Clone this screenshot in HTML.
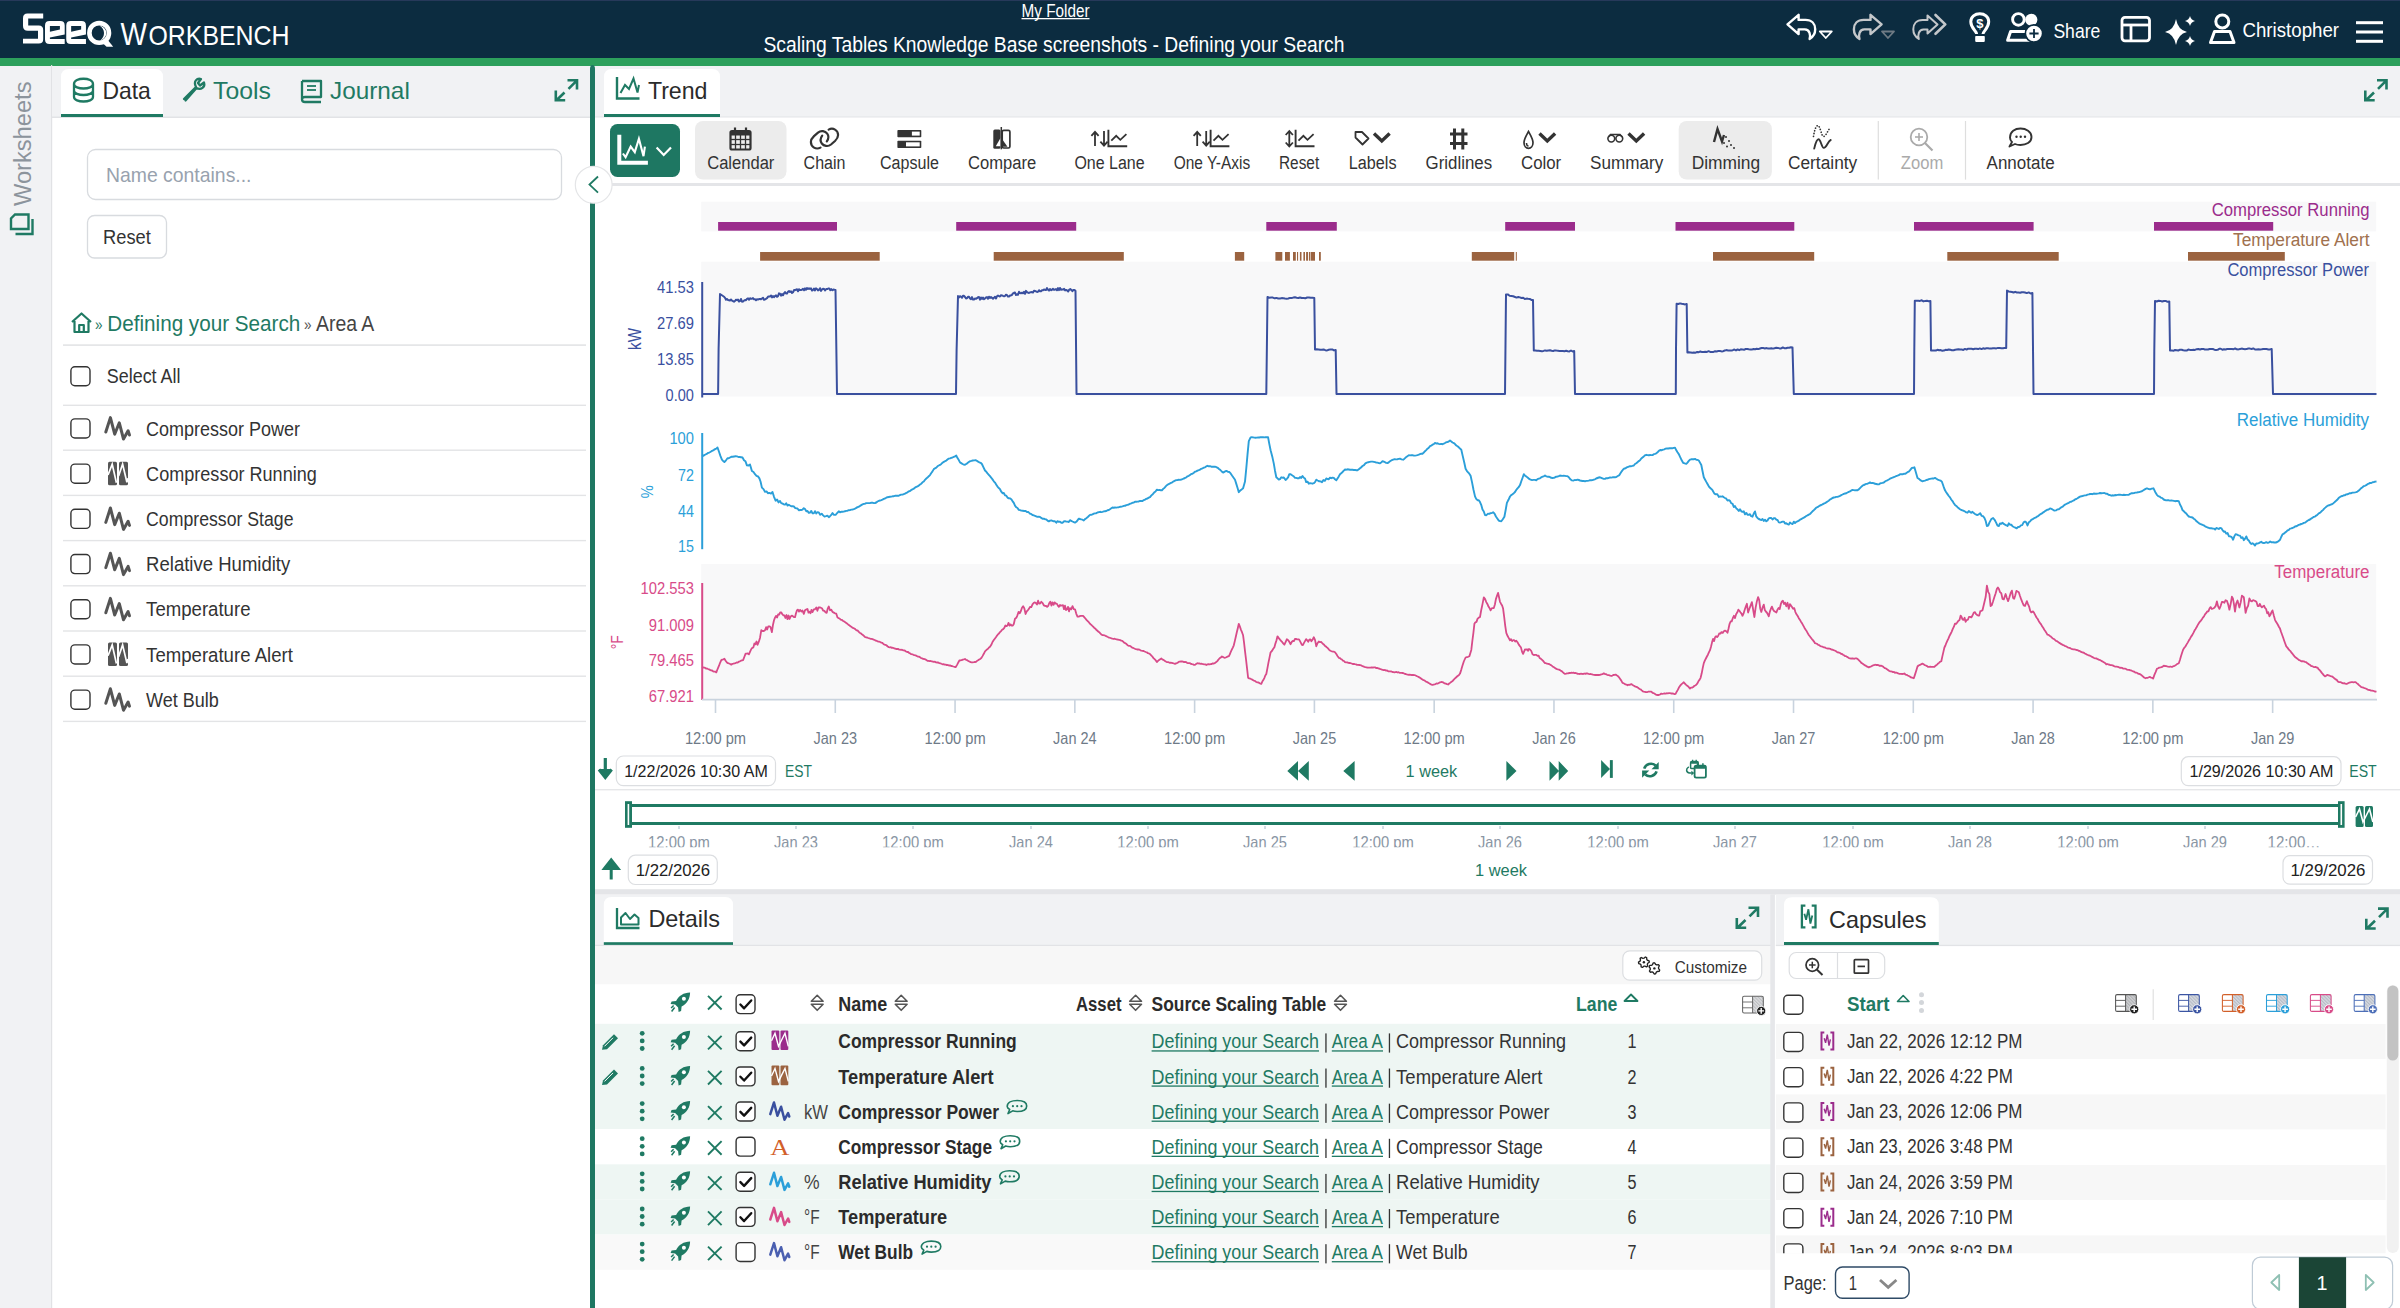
<!DOCTYPE html>
<html><head><meta charset="utf-8"><title>Seeq Workbench</title>
<style>
html,body{margin:0;padding:0;background:#fff;overflow:hidden;width:2400px;height:1308px}
svg{display:block;font-family:"Liberation Sans",sans-serif}
</style></head><body>
<svg width="2400" height="1308" viewBox="0 0 2400 1308">
<rect x="0" y="0" width="2400" height="58" rx="0" fill="#0c2c40" />
<rect x="0" y="0" width="2400" height="1" rx="0" fill="#27395a" />
<rect x="0" y="58" width="2400" height="8" rx="0" fill="#2da05c" />
<path d="M43.2,13.6 H27.5 Q23,13.6 23,18.2 V26 Q23,30.7 27.8,30.7 H38 V38.8 H23 V43.6 H38.8 Q43.2,43.6 43.2,39.2 V30 Q43.2,25.5 38.8,25.5 H28.2 V18.6 H43.2 Z" fill="#ffffff" />
<path d="M49.5,21.1 H60.3 Q64.7,21.1 64.7,25.5 V34.6 L49.9,37.6 V39 H64.7 V44 H49.5 Q45,44 45,39.5 V25.5 Q45,21.1 49.5,21.1 Z M49.9,26.1 V31.8 L59.9,29.6 V26.1 Z" fill="#ffffff" fill-rule="evenodd"/>
<path d="M70.75,21.1 H81.55 Q85.95,21.1 85.95,25.5 V34.6 L71.15,37.6 V39 H85.95 V44 H70.75 Q66.25,44 66.25,39.5 V25.5 Q66.25,21.1 70.75,21.1 Z M71.15,26.1 V31.8 L81.15,29.6 V26.1 Z" fill="#ffffff" fill-rule="evenodd"/>
<circle cx="99.2" cy="32.9" r="9.8" fill="none" stroke="#fff" stroke-width="4.6"/>
<path d="M102.8,43.2 L107.6,39.8 L113.2,46.8 H106.6 Z" fill="#ffffff" />
<path d="M99.5,25.4 C104,26.5 106.3,29.5 106.3,33 C106.3,36.5 104,39.2 100.3,40.4 C102.8,38.5 104,36 104,33 C104,30 102.3,27 99.5,25.4 Z" fill="#ffffff" />
<text x="120.5" y="44.7" font-size="31" fill="#ffffff" font-weight="400" textLength="26.5" lengthAdjust="spacingAndGlyphs" >W</text>
<text x="148.5" y="44.7" font-size="28.5" fill="#ffffff" font-weight="400" textLength="141.0" lengthAdjust="spacingAndGlyphs" >ORKBENCH</text>
<text x="1021.5" y="16.7" font-size="18" fill="#ffffff" font-weight="400" textLength="68.0" lengthAdjust="spacingAndGlyphs" >My Folder</text>
<rect x="1021.5" y="18" width="68" height="1.3" rx="0" fill="#ffffff" />
<text x="763.5" y="51.7" font-size="22" fill="#ffffff" font-weight="400" textLength="581.0" lengthAdjust="spacingAndGlyphs" >Scaling Tables Knowledge Base screenshots - Defining your Search</text>
<path d="M1787.5,24.4 L1798.6,14.8 V19.9 H1805.5 C1811.8,19.9 1815.2,24 1815.2,29.3 C1815.2,34 1812.5,37.3 1809.6,39 C1810.8,35.3 1809.8,29.4 1804.8,29.4 H1798.6 V34.1 Z" fill="none" stroke="#ffffff" stroke-width="2.4" stroke-linejoin="round"/>
<path d="M1819.8,31.5 H1831.8 L1825.8,38 Z" fill="none" stroke="#ffffff" stroke-width="1.8" stroke-linejoin="round"/>
<path d="M1787.5,24.4 L1798.6,14.8 V19.9 H1805.5 C1811.8,19.9 1815.2,24 1815.2,29.3 C1815.2,34 1812.5,37.3 1809.6,39 C1810.8,35.3 1809.8,29.4 1804.8,29.4 H1798.6 V34.1 Z" fill="none" stroke="#c4c7ca" stroke-width="2.4" stroke-linejoin="round" transform="translate(3669.1,0) scale(-1,1)"/>
<path d="M1882,31.5 H1894 L1888,38 Z" fill="none" stroke="#6f7b84" stroke-width="1.8" stroke-linejoin="round"/>
<path d="M1937.5,24.4 L1927.5,15.5 V20 H1922.5 C1916.5,20 1913.3,24 1913.3,29.3 C1913.3,34 1916,37.3 1918.8,39 C1917.6,35.3 1918.6,29.4 1923.5,29.4 H1927.5 V33.5 Z" fill="none" stroke="#c4c7ca" stroke-width="2.0" stroke-linejoin="round"/>
<path d="M1935.5,15 L1945.3,24.4 L1935.5,33.8" fill="none" stroke="#c4c7ca" stroke-width="2.6" stroke-linejoin="round" stroke-linecap="round"/>
<path d="M1976.6,34 C1976.6,31 1970.8,28.5 1970.8,21.8 C1970.8,16.7 1975,13.8 1979.8,13.8 C1984.6,13.8 1988.7,16.7 1988.7,21.8 C1988.7,28.5 1983,31 1983,34" fill="none" stroke="#ffffff" stroke-width="3.0" stroke-linecap="butt"/>
<rect x="1975.2" y="36" width="9.6" height="5.9" rx="0.8" fill="#ffffff" />
<text x="1976.3" y="27.9" font-size="12.5" fill="#ffffff" font-weight="700" textLength="7.2" lengthAdjust="spacingAndGlyphs" >$</text>
<circle cx="2018.4" cy="19.4" r="5.8" fill="none" stroke="#fff" stroke-width="2.9"/>
<circle cx="2031.3" cy="19.8" r="6.1" fill="#fff"/>
<path d="M2007.6,40.2 L2010.6,31.4 H2028 L2030,40.2 Z" fill="none" stroke="#ffffff" stroke-width="3.0" stroke-linejoin="round"/>
<circle cx="2034" cy="33.5" r="8.6" fill="#fff" stroke="#0c2c40" stroke-width="1.6"/>
<path d="M2034,28.9 V38.1 M2029.4,33.5 H2038.6" fill="none" stroke="#0c2c40" stroke-width="1.8" />
<text x="2053.4" y="38.3" font-size="20.5" fill="#ffffff" font-weight="400" textLength="46.9" lengthAdjust="spacingAndGlyphs" >Share</text>
<rect x="2122" y="17.3" width="27.5" height="23.5" rx="3" fill="none" stroke="#ffffff" stroke-width="2.8" />
<line x1="2122" y1="25" x2="2149.5" y2="25" stroke="#ffffff" stroke-width="2.8" />
<line x1="2131" y1="25" x2="2131" y2="40.8" stroke="#ffffff" stroke-width="2.8" />
<path d="M2176,19 Q2178,30 2187,32 Q2178,34 2176,45 Q2174,34 2165,32 Q2174,30 2176,19 Z" fill="#ffffff" />
<path d="M2190,16 Q2191,20 2195,21 Q2191,22 2190,26 Q2189,22 2185,21 Q2189,20 2190,16 Z" fill="#ffffff" />
<path d="M2190,36 Q2191,40 2195,41 Q2191,42 2190,46 Q2189,42 2185,41 Q2189,40 2190,36 Z" fill="#ffffff" />
<circle cx="2222.3" cy="21.5" r="6.5" fill="none" stroke="#fff" stroke-width="3"/>
<path d="M2210.5,42.5 L2214.5,31.5 H2230 L2234,42.5 Z" fill="none" stroke="#ffffff" stroke-width="3" stroke-linejoin="round"/>
<text x="2242.5" y="36.5" font-size="21" fill="#ffffff" font-weight="400" textLength="96.5" lengthAdjust="spacingAndGlyphs" >Christopher</text>
<rect x="2356" y="21.2" width="27" height="3" rx="0" fill="#ffffff" />
<rect x="2356" y="30.5" width="27" height="3" rx="0" fill="#ffffff" />
<rect x="2356" y="39.8" width="27" height="3" rx="0" fill="#ffffff" />
<rect x="0" y="66" width="52" height="1242" rx="0" fill="#f1f2f4" />
<rect x="51" y="65" width="1.2" height="1243" rx="0" fill="#e1e2e5" />
<text transform="translate(31.2,206) rotate(-90)" x="0" y="0" font-size="23.5" fill="#8c949c" textLength="124.5" lengthAdjust="spacingAndGlyphs">Worksheets</text>
<path d="M15,214.5 H28.5 V229 H11 V218.5 Z" fill="none" stroke="#1f7a63" stroke-width="2.4" stroke-linejoin="miter"/>
<path d="M32.5,219 V234 H15.5" fill="none" stroke="#1f7a63" stroke-width="2.4" />
<rect x="52" y="66" width="538" height="51" rx="0" fill="#f1f2f4" />
<rect x="52" y="116.5" width="538" height="1.5" rx="0" fill="#e2e3e6" />
<path d="M61,117 V77 Q61,69 69,69 H155 Q163,69 163,77 V117 Z" fill="#fff" />
<rect x="61" y="114" width="102" height="3" rx="0" fill="#1f7a63" />
<path d="M74,84 C74,77 93,77 93,84 C93,90 74,90 74,84 Z M74,84 V97 C74,103 93,103 93,97 V84 M74,90.5 C74,96.5 93,96.5 93,90.5" fill="none" stroke="#1f7a63" stroke-width="2.3" />
<text x="102.4" y="99.4" font-size="24" fill="#2b2b2b" font-weight="400" textLength="48.4" lengthAdjust="spacingAndGlyphs" >Data</text>
<path d="M184,99 L196,87 M196,87 C193,81 197,78 201,79 L198,83 L200,85.5 L204,82.5 C205.5,87 201,90.5 196.5,88 L185.5,100.5 Z" fill="none" stroke="#1f7a63" stroke-width="2.3" stroke-linejoin="round" stroke-linecap="round"/>
<text x="213.0" y="99.4" font-size="24" fill="#1f7a63" font-weight="400" textLength="57.8" lengthAdjust="spacingAndGlyphs" >Tools</text>
<path d="M302,81 H321 V97 H305 Q302,97 302,99.5 Q302,102 305,102 H321 M302,99.5 V81" fill="none" stroke="#1f7a63" stroke-width="2.3" stroke-linejoin="round"/>
<line x1="307" y1="86" x2="316" y2="86" stroke="#1f7a63" stroke-width="1.8" />
<line x1="307" y1="90" x2="316" y2="90" stroke="#1f7a63" stroke-width="1.8" />
<text x="330.0" y="99.4" font-size="24" fill="#1f7a63" font-weight="400" textLength="79.8" lengthAdjust="spacingAndGlyphs" >Journal</text>
<path d="M567.5,80.3 H577 V89.5 M576.5,80.8 L568.5,88.8 M564.5,92.5 L556.5,100.2 M555.8,90.5 V100.2 H565.2" fill="none" stroke="#1f7a63" stroke-width="2.6" />
<rect x="87.5" y="149.5" width="474" height="50" rx="8" fill="#fff" stroke="#d8dbdf" stroke-width="1.3" />
<text x="106.0" y="182.0" font-size="21" fill="#98a2ae" font-weight="400" textLength="145.5" lengthAdjust="spacingAndGlyphs" >Name contains...</text>
<rect x="87.5" y="215.5" width="79" height="42.5" rx="7" fill="#fff" stroke="#d8dbdf" stroke-width="1.3" />
<text x="103.0" y="243.9" font-size="20.5" fill="#333" font-weight="400" textLength="47.8" lengthAdjust="spacingAndGlyphs" >Reset</text>
<path d="M72,322 L81.5,313.5 L91,322 M74.5,319.5 V332 H88.5 V319.5 M79.2,332 V325 H83.8 V332" fill="none" stroke="#1f7a63" stroke-width="2.2" stroke-linejoin="round"/>
<text x="95.0" y="330.0" font-size="17" fill="#1f7a63" font-weight="400" textLength="7.5" lengthAdjust="spacingAndGlyphs" >»</text>
<text x="107.3" y="330.6" font-size="22.5" fill="#1f7a63" font-weight="400" textLength="193.0" lengthAdjust="spacingAndGlyphs" >Defining your Search</text>
<text x="304.0" y="330.0" font-size="17" fill="#555" font-weight="400" textLength="7.5" lengthAdjust="spacingAndGlyphs" >»</text>
<text x="316.0" y="330.6" font-size="22.5" fill="#444" font-weight="400" textLength="58.3" lengthAdjust="spacingAndGlyphs" >Area A</text>
<rect x="63" y="344.3" width="523" height="1.6" rx="0" fill="#e3e4e6" />
<rect x="70.9" y="366.7" width="19.1" height="19.1" rx="4" fill="#fff" stroke="#333" stroke-width="1.4" />
<text x="106.8" y="382.6" font-size="20" fill="#333" font-weight="400" textLength="73.7" lengthAdjust="spacingAndGlyphs" >Select All</text>
<rect x="63" y="404.6" width="523" height="1.4" rx="0" fill="#e3e4e6" />
<rect x="70.9" y="418.9" width="19.1" height="19.1" rx="4" fill="#fff" stroke="#333" stroke-width="1.4" />
<path d="M105.8,432.0 L110.4,417.6 L114.7,434.2 L119.3,422.8 L123.5,439.0 L128.1,430.8 L129.5,435.0" fill="none" stroke="#555" stroke-width="3.0" stroke-linejoin="round" stroke-linecap="round"/>
<text x="146.1" y="435.6" font-size="20.5" fill="#333" font-weight="400" textLength="153.9" lengthAdjust="spacingAndGlyphs" >Compressor Power</text>
<rect x="63" y="449.5" width="523" height="1.4" rx="0" fill="#e3e4e6" />
<rect x="70.9" y="464.09999999999997" width="19.1" height="19.1" rx="4" fill="#fff" stroke="#333" stroke-width="1.4" />
<rect x="108" y="461.7" width="9" height="23.6" rx="1.5" fill="#555" />
<rect x="119" y="461.7" width="9" height="23.6" rx="1.5" fill="#555" />
<path d="M108,475.0 L112.2,464.09999999999997 L116.4,482.7 M118.6,475.9 L122.6,464.09999999999997 L126.9,482.3 L128,478.2" fill="none" stroke="#fff" stroke-width="1.7" />
<text x="146.1" y="480.8" font-size="20.5" fill="#333" font-weight="400" textLength="170.7" lengthAdjust="spacingAndGlyphs" >Compressor Running</text>
<rect x="63" y="494.7" width="523" height="1.4" rx="0" fill="#e3e4e6" />
<rect x="70.9" y="509.3" width="19.1" height="19.1" rx="4" fill="#fff" stroke="#333" stroke-width="1.4" />
<path d="M105.8,522.4 L110.4,508.0 L114.7,524.6 L119.3,513.2 L123.5,529.4 L128.1,521.2 L129.5,525.4" fill="none" stroke="#555" stroke-width="3.0" stroke-linejoin="round" stroke-linecap="round"/>
<text x="146.1" y="526.0" font-size="20.5" fill="#333" font-weight="400" textLength="147.4" lengthAdjust="spacingAndGlyphs" >Compressor Stage</text>
<rect x="63" y="539.9" width="523" height="1.4" rx="0" fill="#e3e4e6" />
<rect x="70.9" y="554.5" width="19.1" height="19.1" rx="4" fill="#fff" stroke="#333" stroke-width="1.4" />
<path d="M105.8,567.6 L110.4,553.2 L114.7,569.8 L119.3,558.4 L123.5,574.6 L128.1,566.4 L129.5,570.6" fill="none" stroke="#555" stroke-width="3.0" stroke-linejoin="round" stroke-linecap="round"/>
<text x="146.1" y="571.2" font-size="20.5" fill="#333" font-weight="400" textLength="144.2" lengthAdjust="spacingAndGlyphs" >Relative Humidity</text>
<rect x="63" y="585.1" width="523" height="1.4" rx="0" fill="#e3e4e6" />
<rect x="70.9" y="599.7" width="19.1" height="19.1" rx="4" fill="#fff" stroke="#333" stroke-width="1.4" />
<path d="M105.8,612.8 L110.4,598.4 L114.7,615.0 L119.3,603.6 L123.5,619.8 L128.1,611.6 L129.5,615.8" fill="none" stroke="#555" stroke-width="3.0" stroke-linejoin="round" stroke-linecap="round"/>
<text x="146.1" y="616.4" font-size="20.5" fill="#333" font-weight="400" textLength="104.4" lengthAdjust="spacingAndGlyphs" >Temperature</text>
<rect x="63" y="630.3" width="523" height="1.4" rx="0" fill="#e3e4e6" />
<rect x="70.9" y="644.9000000000001" width="19.1" height="19.1" rx="4" fill="#fff" stroke="#333" stroke-width="1.4" />
<rect x="108" y="642.5" width="9" height="23.6" rx="1.5" fill="#555" />
<rect x="119" y="642.5" width="9" height="23.6" rx="1.5" fill="#555" />
<path d="M108,655.8 L112.2,644.9 L116.4,663.5 M118.6,656.7 L122.6,644.9 L126.9,663.1 L128,659.0" fill="none" stroke="#fff" stroke-width="1.7" />
<text x="146.1" y="661.6" font-size="20.5" fill="#333" font-weight="400" textLength="146.8" lengthAdjust="spacingAndGlyphs" >Temperature Alert</text>
<rect x="63" y="675.5" width="523" height="1.4" rx="0" fill="#e3e4e6" />
<rect x="70.9" y="690.1000000000001" width="19.1" height="19.1" rx="4" fill="#fff" stroke="#333" stroke-width="1.4" />
<path d="M105.8,703.2 L110.4,688.8 L114.7,705.4 L119.3,694.0 L123.5,710.2 L128.1,702.0 L129.5,706.2" fill="none" stroke="#555" stroke-width="3.0" stroke-linejoin="round" stroke-linecap="round"/>
<text x="146.1" y="706.8" font-size="20.5" fill="#333" font-weight="400" textLength="72.8" lengthAdjust="spacingAndGlyphs" >Wet Bulb</text>
<rect x="63" y="720.7" width="523" height="1.4" rx="0" fill="#e3e4e6" />
<path d="M590,69 Q590,65 592.5,65 Q595,65 595,69 V1308 H590 Z" fill="#1e7762" />
<rect x="595" y="66" width="1805" height="51" rx="0" fill="#f1f2f4" />
<rect x="595" y="116.5" width="1805" height="1.5" rx="0" fill="#e2e3e6" />
<path d="M604,117 V77 Q604,69 612,69 H712 Q720,69 720,77 V117 Z" fill="#fff" />
<rect x="604" y="114" width="116" height="3" rx="0" fill="#1f7a63" />
<path d="M617,77 V98.5 H639.5" fill="none" stroke="#1f7a63" stroke-width="2.4" />
<path d="M620.5,93 L625,85 L629,89 L633.5,78.5 L637.5,92.5 L639,85" fill="none" stroke="#1f7a63" stroke-width="2.0" stroke-linejoin="miter"/>
<text x="647.9" y="99.0" font-size="24" fill="#2b2b2b" font-weight="400" textLength="59.6" lengthAdjust="spacingAndGlyphs" >Trend</text>
<path d="M2377.0,80.3 H2386.5 V89.5 M2386.0,80.8 L2378.0,88.8 M2374.0,92.5 L2366.0,100.2 M2365.3,90.5 V100.2 H2374.7" fill="none" stroke="#1f7a63" stroke-width="2.6" />
<rect x="595" y="117.5" width="1805" height="66" rx="0" fill="#fff" />
<rect x="595" y="183" width="1805" height="3" rx="0" fill="#e4e5e8" />
<rect x="610" y="124" width="70" height="52.9" rx="7.5" fill="#1e7762" />
<path d="M619.3,134.7 V162.8 H647.9" fill="none" stroke="#fff" stroke-width="4.0" />
<path d="M622.9,153.5 L625.6,157.2 L630.7,146.6 L634.8,152.1 L638.9,138.8 L643.5,156.2 L644.9,146.6" fill="none" stroke="#fff" stroke-width="2.1" stroke-linejoin="miter"/>
<path d="M656.6,147.5 L663.7,154.9 L671,147.5" fill="none" stroke="#fff" stroke-width="2.2" />
<rect x="695" y="121" width="91.5" height="58.6" rx="8" fill="#ececec" />
<rect x="1678.7" y="121" width="93.2" height="58.6" rx="8" fill="#ececec" />
<text x="707.2" y="168.5" font-size="18" fill="#333" font-weight="400" textLength="67.2" lengthAdjust="spacingAndGlyphs" >Calendar</text>
<text x="803.6" y="168.5" font-size="18" fill="#333" font-weight="400" textLength="41.9" lengthAdjust="spacingAndGlyphs" >Chain</text>
<text x="880.0" y="168.5" font-size="18" fill="#333" font-weight="400" textLength="58.9" lengthAdjust="spacingAndGlyphs" >Capsule</text>
<text x="968.0" y="168.5" font-size="18" fill="#333" font-weight="400" textLength="68.2" lengthAdjust="spacingAndGlyphs" >Compare</text>
<text x="1074.4" y="168.5" font-size="18" fill="#333" font-weight="400" textLength="70.2" lengthAdjust="spacingAndGlyphs" >One Lane</text>
<text x="1173.7" y="168.5" font-size="18" fill="#333" font-weight="400" textLength="76.5" lengthAdjust="spacingAndGlyphs" >One Y-Axis</text>
<text x="1279.0" y="168.5" font-size="18" fill="#333" font-weight="400" textLength="40.2" lengthAdjust="spacingAndGlyphs" >Reset</text>
<text x="1348.8" y="168.5" font-size="18" fill="#333" font-weight="400" textLength="47.7" lengthAdjust="spacingAndGlyphs" >Labels</text>
<text x="1425.6" y="168.5" font-size="18" fill="#333" font-weight="400" textLength="66.5" lengthAdjust="spacingAndGlyphs" >Gridlines</text>
<text x="1521.0" y="168.5" font-size="18" fill="#333" font-weight="400" textLength="40.2" lengthAdjust="spacingAndGlyphs" >Color</text>
<text x="1590.0" y="168.5" font-size="18" fill="#333" font-weight="400" textLength="73.2" lengthAdjust="spacingAndGlyphs" >Summary</text>
<text x="1691.7" y="168.5" font-size="18" fill="#333" font-weight="400" textLength="68.5" lengthAdjust="spacingAndGlyphs" >Dimming</text>
<text x="1788.0" y="168.5" font-size="18" fill="#333" font-weight="400" textLength="69.2" lengthAdjust="spacingAndGlyphs" >Certainty</text>
<text x="1900.8" y="168.5" font-size="18" fill="#aaaaaa" font-weight="400" textLength="42.4" lengthAdjust="spacingAndGlyphs" >Zoom</text>
<text x="1986.6" y="168.5" font-size="18" fill="#333" font-weight="400" textLength="68.0" lengthAdjust="spacingAndGlyphs" >Annotate</text>
<line x1="1878.3" y1="121" x2="1878.3" y2="179.6" stroke="#dedede" stroke-width="1.2" />
<line x1="1965.5" y1="121" x2="1965.5" y2="179.6" stroke="#dedede" stroke-width="1.2" />
<rect x="730.5" y="131" width="20" height="18.5" rx="1.5" fill="none" stroke="#333" stroke-width="2.2" />
<rect x="730.5" y="131" width="20" height="4.5" rx="0" fill="#333" />
<line x1="735.5" y1="135" x2="735.5" y2="149.5" stroke="#333" stroke-width="1.3" />
<line x1="740.5" y1="135" x2="740.5" y2="149.5" stroke="#333" stroke-width="1.3" />
<line x1="745.5" y1="135" x2="745.5" y2="149.5" stroke="#333" stroke-width="1.3" />
<line x1="730.5" y1="139.5" x2="750.5" y2="139.5" stroke="#333" stroke-width="1.3" />
<line x1="730.5" y1="144.5" x2="750.5" y2="144.5" stroke="#333" stroke-width="1.3" />
<line x1="735" y1="127.5" x2="735" y2="132" stroke="#333" stroke-width="2.2" />
<line x1="746" y1="127.5" x2="746" y2="132" stroke="#333" stroke-width="2.2" />
<path d="M820.5,147.6 C816,150 810.9,147 810.9,142 C810.9,139.2 812.4,137.6 814,136.1 L818,132.6 C821,130.1 825.2,131 827.2,133.6 C829.1,136.1 828.5,139 826.8,141.4" fill="none" stroke="#333" stroke-width="2.2" stroke-linecap="round"/>
<path d="M828.6,129.6 C833.1,127.2 838.1,130.2 838.1,135.1 C838.1,137.9 836.6,139.5 835,141 L831,144.5 C828,147 823.8,146.1 821.8,143.5 C819.9,141 820.5,138.1 822.2,135.7" fill="none" stroke="#333" stroke-width="2.2" stroke-linecap="round"/>
<rect x="897.4" y="130" width="23.9" height="7.2" rx="0.8" fill="#333" />
<rect x="911.9" y="131.6" width="7.8" height="4.0" rx="0" fill="#fff" />
<rect x="897.4" y="140.7" width="23.9" height="7.3" rx="0.8" fill="#333" />
<rect x="906" y="142.3" width="13.7" height="4.1" rx="0" fill="#fff" />
<rect x="993.3" y="129.5" width="7.2" height="19.3" rx="1.5" fill="#333" />
<path d="M1000.5,138 L995.8,146.2 H1000.5 Z" fill="#fff" />
<rect x="1002.2" y="130.3" width="7.7" height="17.7" rx="1.5" fill="none" stroke="#333" stroke-width="1.7" />
<path d="M1002,139 L1007.5,146.8 H1002 Z" fill="#333" />
<line x1="1001.3" y1="127" x2="1001.3" y2="149.3" stroke="#333" stroke-width="1.5" />
<path d="M1095,146 V132.5 M1091.4,135.8 L1095,131.8 L1098.6,135.8" fill="none" stroke="#333" stroke-width="1.8" />
<path d="M1104,131 V145 M1100.4,141.6 L1104,145.6 L1107.6,141.6" fill="none" stroke="#333" stroke-width="1.8" />
<path d="M1108.4,129.8 V146.3 H1127.2" fill="none" stroke="#333" stroke-width="1.9" />
<path d="M1111.3,140.6 L1116.2,135.8 L1120.3,139.8 L1126.4,134.2" fill="none" stroke="#333" stroke-width="1.8" />
<path d="M1197.2,146 V132.5 M1193.6000000000001,135.8 L1197.2,131.8 L1200.8,135.8" fill="none" stroke="#333" stroke-width="1.8" />
<path d="M1206.2,131 V145 M1202.6000000000001,141.6 L1206.2,145.6 L1209.8,141.6" fill="none" stroke="#333" stroke-width="1.8" />
<path d="M1210.6000000000001,129.8 V146.3 H1229.4" fill="none" stroke="#333" stroke-width="1.9" />
<path d="M1213.5,140.6 L1218.4,135.8 L1222.5,139.8 L1228.6000000000001,134.2" fill="none" stroke="#333" stroke-width="1.8" />
<path d="M1289.3,131.5 V146 M1285.7,135 L1289.3,131 L1292.9,135 M1285.7,142.5 L1289.3,146.5 L1292.9,142.5" fill="none" stroke="#333" stroke-width="1.8" />
<path d="M1295.6,129.8 V146.3 H1314.5" fill="none" stroke="#333" stroke-width="1.9" />
<path d="M1298.5,140.6 L1303.4,135.8 L1307.5,139.8 L1313.6,134.2" fill="none" stroke="#333" stroke-width="1.8" />
<path d="M1355.5,132 H1362 L1368.5,138.5 L1362.5,144.5 L1355.5,137.5 Z" fill="none" stroke="#333" stroke-width="1.8" stroke-linejoin="round"/>
<path d="M1374,133.5 L1381.8,141 L1389.6,133.5" fill="none" stroke="#333" stroke-width="3.4" />
<line x1="1454.5" y1="128.5" x2="1454.5" y2="149.5" stroke="#333" stroke-width="3.0" />
<line x1="1462.8" y1="128.5" x2="1462.8" y2="149.5" stroke="#333" stroke-width="3.0" />
<line x1="1450" y1="134" x2="1467.5" y2="134" stroke="#333" stroke-width="3.0" />
<line x1="1450" y1="143.5" x2="1467.5" y2="143.5" stroke="#333" stroke-width="3.0" />
<path d="M1528.5,131.5 C1526,136 1524,139 1524,142.8 C1524,146 1526,148.3 1528.5,148.3 C1531,148.3 1533,146 1533,142.8 C1533,139 1531,136 1528.5,131.5 Z" fill="none" stroke="#333" stroke-width="1.7" />
<path d="M1526.5,143 C1526.5,145 1527.5,146 1528.5,146" fill="none" stroke="#333" stroke-width="1.5" />
<path d="M1539.5,133.5 L1547.3,141 L1555.1,133.5" fill="none" stroke="#333" stroke-width="3.4" />
<circle cx="1611.3" cy="138.6" r="3.4" fill="none" stroke="#333" stroke-width="1.6"/>
<circle cx="1619.3" cy="138.6" r="3.4" fill="none" stroke="#333" stroke-width="1.6"/>
<path d="M1608.5,137 L1610.5,134.5 H1620 L1622.2,137" fill="none" stroke="#333" stroke-width="1.5" />
<path d="M1628.5,133.5 L1636.3,141 L1644.1,133.5" fill="none" stroke="#333" stroke-width="3.4" />
<path d="M1714,142 L1717.5,129 L1722,141.5 L1724,135" fill="none" stroke="#333" stroke-width="2.4" />
<circle cx="1726" cy="137" r="1" fill="#333"/>
<circle cx="1729" cy="141" r="1" fill="#333"/>
<circle cx="1724" cy="143" r="1" fill="#333"/>
<circle cx="1731" cy="145" r="1" fill="#333"/>
<circle cx="1727" cy="146.5" r="1" fill="#333"/>
<circle cx="1734" cy="148" r="1" fill="#333"/>
<path d="M1814.2,148.6 C1815.5,143 1816.5,139.2 1818.5,139.2 C1820.8,139.2 1821.5,147.9 1823.8,147.9 C1826.5,147.9 1828,141 1830.7,140" fill="none" stroke="#333" stroke-width="1.9" stroke-linecap="round"/>
<path d="M1813.5,136.4 C1814.5,130 1816,125.6 1817.8,125.6 C1820.3,125.6 1821.3,136.4 1823.6,136.4 C1826.3,136.4 1828,129 1830.7,127.7" fill="none" stroke="#333" stroke-width="1.7" stroke-dasharray="0.1 2.7" stroke-linecap="round"/>
<circle cx="1919" cy="137" r="8.3" fill="none" stroke="#aaa" stroke-width="1.8"/>
<line x1="1925" y1="143" x2="1932.5" y2="150.5" stroke="#aaa" stroke-width="2.2" />
<line x1="1915" y1="137" x2="1923" y2="137" stroke="#aaa" stroke-width="1.6" />
<line x1="1919" y1="133" x2="1919" y2="141" stroke="#aaa" stroke-width="1.6" />
<path d="M2010,137.5 C2010,131.5 2015,128.5 2020.5,128.5 C2026,128.5 2031.5,131.5 2031.5,137 C2031.5,142.5 2026,145 2020.5,145 C2018.5,145 2016.5,144.7 2015,144 L2009.5,146.5 L2012,142 C2010.7,140.8 2010,139.2 2010,137.5 Z" fill="none" stroke="#333" stroke-width="1.9" stroke-linejoin="round"/>
<circle cx="2016.5" cy="136.8" r="1.2" fill="#333"/>
<circle cx="2020.7" cy="136.8" r="1.2" fill="#333"/>
<circle cx="2025" cy="136.8" r="1.2" fill="#333"/>
<circle cx="593.7" cy="184.8" r="18.4" fill="#fff" stroke="#e4e5e7" stroke-width="1.2"/>
<path d="M598,176.5 L589.5,184.6 L598,192.6" fill="none" stroke="#1f7a63" stroke-width="1.8" />
<rect x="701.2" y="201.7" width="1675" height="29.7" rx="0" fill="#f8f8f9" />
<rect x="701.2" y="261.7" width="1675" height="134.8" rx="0" fill="#f8f8f9" />
<rect x="701.2" y="563.9" width="1675" height="135.5" rx="0" fill="#f8f8f9" />
<rect x="718.1" y="222" width="118.89999999999998" height="8.7" rx="0" fill="#9b2c8c" />
<rect x="956.2" y="222" width="120.0" height="8.7" rx="0" fill="#9b2c8c" />
<rect x="1266.3" y="222" width="70.5" height="8.7" rx="0" fill="#9b2c8c" />
<rect x="1505.2" y="222" width="69.79999999999995" height="8.7" rx="0" fill="#9b2c8c" />
<rect x="1675.5" y="222" width="118.79999999999995" height="8.7" rx="0" fill="#9b2c8c" />
<rect x="1914" y="222" width="119.59999999999991" height="8.7" rx="0" fill="#9b2c8c" />
<rect x="2154" y="222" width="119.19999999999982" height="8.7" rx="0" fill="#9b2c8c" />
<rect x="760.1" y="252" width="119.60000000000002" height="8.7" rx="0" fill="#9b6340" />
<rect x="993.7" y="252" width="130.0999999999999" height="8.7" rx="0" fill="#9b6340" />
<rect x="1234.9" y="252" width="9.299999999999955" height="8.7" rx="0" fill="#9b6340" />
<rect x="1275.4" y="252" width="6.899999999999864" height="8.7" rx="0" fill="#9b6340" />
<rect x="1285" y="252" width="4.900000000000091" height="8.7" rx="0" fill="#9b6340" />
<rect x="1293" y="252" width="2.7999999999999545" height="8.7" rx="0" fill="#9b6340" />
<rect x="1297" y="252" width="1.099999999999909" height="8.7" rx="0" fill="#9b6340" />
<rect x="1299.9" y="252" width="1.599999999999909" height="8.7" rx="0" fill="#9b6340" />
<rect x="1303.4" y="252" width="1.599999999999909" height="8.7" rx="0" fill="#9b6340" />
<rect x="1306.1" y="252" width="1.900000000000091" height="8.7" rx="0" fill="#9b6340" />
<rect x="1308.9" y="252" width="1.2999999999999545" height="8.7" rx="0" fill="#9b6340" />
<rect x="1310.7" y="252" width="4.2999999999999545" height="8.7" rx="0" fill="#9b6340" />
<rect x="1319" y="252" width="1.7999999999999545" height="8.7" rx="0" fill="#9b6340" />
<rect x="1471.8" y="252" width="42.40000000000009" height="8.7" rx="0" fill="#9b6340" />
<rect x="1515.8" y="252" width="1.0" height="8.7" rx="0" fill="#9b6340" />
<rect x="1713" y="252" width="101.20000000000005" height="8.7" rx="0" fill="#9b6340" />
<rect x="1947.3" y="252" width="111.39999999999986" height="8.7" rx="0" fill="#9b6340" />
<rect x="2188" y="252" width="96.80000000000018" height="8.7" rx="0" fill="#9b6340" />
<text x="2211.7" y="215.6" font-size="18" fill="#9b2c8c" font-weight="400" textLength="157.8" lengthAdjust="spacingAndGlyphs" >Compressor Running</text>
<text x="2233.0" y="246.4" font-size="18" fill="#a0714e" font-weight="400" textLength="136.5" lengthAdjust="spacingAndGlyphs" >Temperature Alert</text>
<text x="2227.4" y="276.4" font-size="18" fill="#3a509f" font-weight="400" textLength="141.6" lengthAdjust="spacingAndGlyphs" >Compressor Power</text>
<text x="2236.8" y="426.2" font-size="18" fill="#2b9fd9" font-weight="400" textLength="132.2" lengthAdjust="spacingAndGlyphs" >Relative Humidity</text>
<text x="2274.3" y="578.1" font-size="18" fill="#d84b89" font-weight="400" textLength="95.2" lengthAdjust="spacingAndGlyphs" >Temperature</text>
<line x1="702.2" y1="282" x2="702.2" y2="397.5" stroke="#3a509f" stroke-width="2" />
<line x1="702.2" y1="433" x2="702.2" y2="549.2" stroke="#2b9fd9" stroke-width="2" />
<line x1="702.2" y1="583" x2="702.2" y2="700" stroke="#d84b89" stroke-width="2" />
<line x1="702" y1="699.6" x2="2377" y2="699.6" stroke="#c9d3de" stroke-width="1.6" />
<text x="657.0" y="293.2" font-size="16" fill="#3a509f" font-weight="400" textLength="36.9" lengthAdjust="spacingAndGlyphs" >41.53</text>
<text x="657.0" y="329.2" font-size="16" fill="#3a509f" font-weight="400" textLength="36.9" lengthAdjust="spacingAndGlyphs" >27.69</text>
<text x="657.0" y="364.8" font-size="16" fill="#3a509f" font-weight="400" textLength="36.9" lengthAdjust="spacingAndGlyphs" >13.85</text>
<text x="665.6" y="400.8" font-size="16" fill="#3a509f" font-weight="400" textLength="28.3" lengthAdjust="spacingAndGlyphs" >0.00</text>
<text x="669.4" y="444.2" font-size="16" fill="#2b9fd9" font-weight="400" textLength="24.5" lengthAdjust="spacingAndGlyphs" >100</text>
<text x="678.0" y="480.6" font-size="16" fill="#2b9fd9" font-weight="400" textLength="15.9" lengthAdjust="spacingAndGlyphs" >72</text>
<text x="678.0" y="516.9" font-size="16" fill="#2b9fd9" font-weight="400" textLength="15.9" lengthAdjust="spacingAndGlyphs" >44</text>
<text x="678.0" y="551.8" font-size="16" fill="#2b9fd9" font-weight="400" textLength="15.9" lengthAdjust="spacingAndGlyphs" >15</text>
<text x="640.5" y="594.2" font-size="16" fill="#d84b89" font-weight="400" textLength="53.4" lengthAdjust="spacingAndGlyphs" >102.553</text>
<text x="648.7" y="630.5" font-size="16" fill="#d84b89" font-weight="400" textLength="45.2" lengthAdjust="spacingAndGlyphs" >91.009</text>
<text x="648.7" y="666.2" font-size="16" fill="#d84b89" font-weight="400" textLength="45.2" lengthAdjust="spacingAndGlyphs" >79.465</text>
<text x="648.7" y="701.8" font-size="16" fill="#d84b89" font-weight="400" textLength="45.2" lengthAdjust="spacingAndGlyphs" >67.921</text>
<text transform="translate(640.5,349.9) rotate(-90)" font-size="18" fill="#3a509f" textLength="22" lengthAdjust="spacingAndGlyphs">kW</text>
<text transform="translate(652.5,498.2) rotate(-90)" font-size="17" fill="#2b9fd9" textLength="13" lengthAdjust="spacingAndGlyphs">%</text>
<text transform="translate(623.2,649.3) rotate(-90)" font-size="17" fill="#d84b89" textLength="14" lengthAdjust="spacingAndGlyphs">°F</text>
<line x1="715.5" y1="700" x2="715.5" y2="713" stroke="#c9d3de" stroke-width="1.6" />
<text x="684.9" y="744.2" font-size="16.5" fill="#6e7a87" font-weight="400" textLength="61.2" lengthAdjust="spacingAndGlyphs" >12:00 pm</text>
<line x1="835.28" y1="700" x2="835.28" y2="713" stroke="#c9d3de" stroke-width="1.6" />
<text x="813.5" y="744.2" font-size="16.5" fill="#6e7a87" font-weight="400" textLength="43.5" lengthAdjust="spacingAndGlyphs" >Jan 23</text>
<line x1="955.06" y1="700" x2="955.06" y2="713" stroke="#c9d3de" stroke-width="1.6" />
<text x="924.5" y="744.2" font-size="16.5" fill="#6e7a87" font-weight="400" textLength="61.2" lengthAdjust="spacingAndGlyphs" >12:00 pm</text>
<line x1="1074.8400000000001" y1="700" x2="1074.8400000000001" y2="713" stroke="#c9d3de" stroke-width="1.6" />
<text x="1053.1" y="744.2" font-size="16.5" fill="#6e7a87" font-weight="400" textLength="43.5" lengthAdjust="spacingAndGlyphs" >Jan 24</text>
<line x1="1194.62" y1="700" x2="1194.62" y2="713" stroke="#c9d3de" stroke-width="1.6" />
<text x="1164.0" y="744.2" font-size="16.5" fill="#6e7a87" font-weight="400" textLength="61.2" lengthAdjust="spacingAndGlyphs" >12:00 pm</text>
<line x1="1314.4" y1="700" x2="1314.4" y2="713" stroke="#c9d3de" stroke-width="1.6" />
<text x="1292.7" y="744.2" font-size="16.5" fill="#6e7a87" font-weight="400" textLength="43.5" lengthAdjust="spacingAndGlyphs" >Jan 25</text>
<line x1="1434.18" y1="700" x2="1434.18" y2="713" stroke="#c9d3de" stroke-width="1.6" />
<text x="1403.6" y="744.2" font-size="16.5" fill="#6e7a87" font-weight="400" textLength="61.2" lengthAdjust="spacingAndGlyphs" >12:00 pm</text>
<line x1="1553.96" y1="700" x2="1553.96" y2="713" stroke="#c9d3de" stroke-width="1.6" />
<text x="1532.2" y="744.2" font-size="16.5" fill="#6e7a87" font-weight="400" textLength="43.5" lengthAdjust="spacingAndGlyphs" >Jan 26</text>
<line x1="1673.74" y1="700" x2="1673.74" y2="713" stroke="#c9d3de" stroke-width="1.6" />
<text x="1643.1" y="744.2" font-size="16.5" fill="#6e7a87" font-weight="400" textLength="61.2" lengthAdjust="spacingAndGlyphs" >12:00 pm</text>
<line x1="1793.52" y1="700" x2="1793.52" y2="713" stroke="#c9d3de" stroke-width="1.6" />
<text x="1771.8" y="744.2" font-size="16.5" fill="#6e7a87" font-weight="400" textLength="43.5" lengthAdjust="spacingAndGlyphs" >Jan 27</text>
<line x1="1913.3" y1="700" x2="1913.3" y2="713" stroke="#c9d3de" stroke-width="1.6" />
<text x="1882.7" y="744.2" font-size="16.5" fill="#6e7a87" font-weight="400" textLength="61.2" lengthAdjust="spacingAndGlyphs" >12:00 pm</text>
<line x1="2033.08" y1="700" x2="2033.08" y2="713" stroke="#c9d3de" stroke-width="1.6" />
<text x="2011.3" y="744.2" font-size="16.5" fill="#6e7a87" font-weight="400" textLength="43.5" lengthAdjust="spacingAndGlyphs" >Jan 28</text>
<line x1="2152.86" y1="700" x2="2152.86" y2="713" stroke="#c9d3de" stroke-width="1.6" />
<text x="2122.3" y="744.2" font-size="16.5" fill="#6e7a87" font-weight="400" textLength="61.2" lengthAdjust="spacingAndGlyphs" >12:00 pm</text>
<line x1="2272.6400000000003" y1="700" x2="2272.6400000000003" y2="713" stroke="#c9d3de" stroke-width="1.6" />
<text x="2250.9" y="744.2" font-size="16.5" fill="#6e7a87" font-weight="400" textLength="43.5" lengthAdjust="spacingAndGlyphs" >Jan 29</text>
<path d="M702.0,394.0 L718.1,394.0 L718.6,349.0 L720.0,294.0 L723.0,296.0 L724.0,296.7 L725.0,297.8 L726.0,299.7 L727.0,299.1 L728.0,300.0 L729.0,300.2 L730.0,300.5 L731.0,299.5 L732.0,300.6 L733.0,301.1 L734.0,301.7 L735.0,301.0 L736.0,299.7 L737.0,300.2 L738.0,299.5 L739.0,301.5 L740.0,301.1 L741.0,299.0 L742.0,301.7 L743.0,301.6 L744.0,300.6 L745.0,300.0 L746.0,300.3 L747.0,298.8 L748.0,298.3 L749.0,299.8 L750.0,298.3 L751.0,298.7 L752.0,298.8 L753.0,298.1 L754.0,299.3 L755.0,299.2 L756.0,300.3 L757.0,299.3 L758.0,299.6 L759.0,299.1 L760.0,299.0 L761.0,299.3 L762.0,298.5 L763.0,297.7 L764.0,299.7 L765.0,299.5 L766.0,298.8 L767.0,298.2 L768.0,296.8 L769.0,296.4 L770.0,296.4 L771.0,295.5 L772.0,297.4 L773.0,296.1 L774.0,297.2 L775.0,296.0 L776.0,295.4 L777.0,296.8 L778.0,296.2 L779.0,293.4 L780.0,293.8 L781.0,295.6 L782.0,294.0 L783.0,295.3 L784.0,293.3 L785.0,292.1 L786.0,293.5 L787.0,293.6 L788.0,291.8 L789.0,291.0 L790.0,292.0 L791.0,291.3 L792.0,293.0 L793.0,292.2 L794.0,290.1 L795.0,290.2 L796.0,289.6 L797.0,289.3 L798.0,291.3 L799.0,289.2 L800.0,290.0 L801.0,290.1 L802.0,289.6 L803.0,288.8 L804.0,290.3 L805.0,288.4 L806.0,289.8 L807.0,288.1 L808.0,289.0 L809.0,288.2 L810.0,289.0 L811.0,288.4 L812.0,290.5 L813.0,290.0 L814.0,288.6 L815.0,290.4 L816.0,288.4 L817.0,289.0 L818.0,290.4 L819.0,289.8 L820.0,288.2 L821.0,290.9 L822.0,289.5 L823.0,288.7 L824.1,288.9 L825.1,290.4 L826.2,289.1 L827.2,289.1 L828.2,288.5 L829.3,288.5 L830.3,290.1 L831.3,289.1 L832.4,290.2 L833.4,289.5 L834.5,289.8 L835.5,290.0 L837.0,394.0 L956.0,394.0 L956.6,350.0 L958.0,296.0 L959.0,297.5 L960.0,296.2 L961.0,296.7 L962.0,297.7 L963.0,295.8 L964.0,295.8 L965.0,297.0 L966.0,298.4 L967.0,298.3 L968.0,296.7 L969.0,296.7 L970.0,298.5 L971.0,299.2 L972.0,297.1 L973.0,299.6 L974.0,299.5 L975.0,298.5 L976.0,298.8 L977.0,298.2 L978.0,297.2 L979.0,297.0 L980.0,299.7 L981.0,297.5 L982.0,298.9 L983.0,297.5 L984.0,299.2 L985.0,298.5 L986.0,297.5 L987.0,297.1 L988.0,298.7 L989.0,296.7 L990.0,298.0 L991.0,297.1 L992.0,297.9 L993.0,298.7 L994.0,297.8 L995.0,296.7 L996.0,298.5 L997.0,296.2 L998.0,295.5 L999.0,296.1 L1000.0,296.5 L1001.0,295.2 L1002.0,295.4 L1003.0,295.9 L1004.0,296.3 L1005.0,296.0 L1006.0,294.7 L1007.0,295.2 L1008.0,296.6 L1009.0,296.6 L1010.0,295.5 L1011.0,295.4 L1012.0,294.9 L1013.0,293.3 L1014.0,292.8 L1015.0,292.6 L1016.0,295.0 L1017.0,294.2 L1018.0,294.8 L1019.0,291.8 L1020.0,293.0 L1021.0,293.3 L1022.0,292.7 L1023.0,293.3 L1024.0,291.9 L1025.0,293.8 L1026.0,290.9 L1027.0,292.2 L1028.0,292.6 L1029.0,293.0 L1030.0,292.4 L1031.0,292.1 L1032.0,292.3 L1033.0,292.5 L1034.0,290.7 L1035.0,291.0 L1036.0,291.4 L1037.0,291.9 L1038.0,291.7 L1039.0,290.2 L1040.0,291.2 L1041.0,291.3 L1042.0,290.3 L1043.0,290.3 L1044.0,289.4 L1045.0,289.9 L1046.0,289.9 L1047.0,288.1 L1048.0,289.7 L1049.0,290.6 L1050.0,289.0 L1051.0,290.2 L1052.0,289.8 L1053.0,288.8 L1054.0,289.9 L1055.0,289.5 L1056.0,289.1 L1057.0,290.3 L1058.0,288.1 L1059.0,290.1 L1060.0,288.0 L1061.0,289.8 L1062.0,289.5 L1063.0,289.6 L1064.1,288.9 L1065.1,290.4 L1066.2,290.0 L1067.2,290.4 L1068.2,291.5 L1069.3,289.6 L1070.3,289.0 L1071.3,289.9 L1072.4,291.2 L1073.4,289.9 L1074.5,289.9 L1075.5,291.0 L1076.5,394.0 L1266.3,394.0 L1267.5,297.0 L1269.3,297.7 L1271.1,297.6 L1272.9,297.6 L1274.6,298.3 L1276.4,297.9 L1278.2,298.5 L1280.0,298.5 L1281.7,298.1 L1283.3,298.3 L1285.0,298.6 L1286.7,298.7 L1288.3,298.5 L1290.0,297.9 L1291.7,298.0 L1293.3,297.6 L1295.0,297.3 L1296.7,297.7 L1298.3,298.0 L1300.0,297.5 L1301.8,298.0 L1303.6,297.9 L1305.4,298.2 L1307.2,297.5 L1308.9,297.4 L1310.7,297.8 L1312.5,297.7 L1314.3,298.0 L1315.0,349.5 L1316.7,349.2 L1318.5,349.5 L1320.2,349.8 L1321.9,349.7 L1323.6,349.5 L1325.3,350.2 L1327.1,350.4 L1328.8,349.8 L1330.5,349.4 L1332.2,349.4 L1334.0,350.4 L1335.7,350.0 L1336.5,394.0 L1505.0,394.0 L1506.0,294.4 L1507.8,294.4 L1509.6,295.7 L1511.4,296.0 L1513.2,296.3 L1515.0,297.0 L1516.6,297.6 L1518.3,297.0 L1519.9,297.4 L1521.5,298.0 L1523.2,297.8 L1524.8,299.0 L1526.5,298.6 L1528.1,298.8 L1529.7,298.9 L1531.4,299.9 L1533.0,300.0 L1533.8,350.6 L1535.4,350.6 L1537.0,350.8 L1538.6,350.8 L1540.3,351.0 L1541.9,351.2 L1543.5,350.9 L1545.1,350.4 L1546.7,350.7 L1548.3,350.4 L1550.0,350.2 L1551.6,350.7 L1553.2,351.0 L1554.8,350.4 L1556.4,350.6 L1558.0,350.7 L1559.7,351.1 L1561.3,350.9 L1562.9,351.0 L1564.5,351.2 L1566.1,350.8 L1567.7,351.3 L1569.4,351.4 L1571.0,350.5 L1572.6,351.5 L1574.2,351.0 L1575.0,394.0 L1675.8,394.0 L1676.0,350.0 L1676.6,303.7 L1678.3,304.0 L1680.0,303.4 L1681.7,303.8 L1683.3,304.1 L1685.0,304.4 L1686.7,304.0 L1687.4,352.5 L1689.0,352.3 L1690.7,352.4 L1692.3,352.7 L1693.9,352.6 L1695.6,352.7 L1697.2,352.0 L1698.8,352.2 L1700.4,351.5 L1702.1,352.1 L1703.7,352.1 L1705.3,351.8 L1707.0,351.9 L1708.6,351.2 L1710.2,351.9 L1711.8,352.0 L1713.5,351.9 L1715.1,351.3 L1716.7,351.5 L1718.4,350.9 L1720.0,351.0 L1721.6,351.4 L1723.2,351.2 L1724.8,350.5 L1726.4,350.1 L1728.0,350.4 L1729.6,350.5 L1731.2,350.6 L1732.8,350.2 L1734.4,349.5 L1736.0,350.4 L1737.6,349.4 L1739.2,350.2 L1740.8,349.3 L1742.4,349.4 L1744.0,349.8 L1745.6,349.0 L1747.2,348.9 L1748.8,349.2 L1750.4,349.4 L1752.0,349.4 L1753.6,349.1 L1755.2,349.3 L1756.8,348.7 L1758.4,349.1 L1760.0,348.5 L1761.6,348.0 L1763.2,348.1 L1764.9,348.4 L1766.5,348.1 L1768.1,348.5 L1769.8,348.4 L1771.4,348.2 L1773.0,348.6 L1774.6,348.2 L1776.2,347.8 L1777.9,347.9 L1779.5,348.4 L1781.1,348.4 L1782.8,347.5 L1784.4,348.2 L1786.0,348.3 L1787.6,347.8 L1789.2,347.8 L1790.9,347.3 L1792.5,347.6 L1793.8,394.0 L1914.0,394.0 L1914.3,350.0 L1914.8,300.7 L1916.5,300.8 L1918.3,300.8 L1920.0,300.9 L1921.7,300.3 L1923.5,301.4 L1925.2,300.9 L1926.9,300.8 L1928.7,301.3 L1930.4,301.0 L1931.0,350.6 L1932.6,350.6 L1934.2,350.5 L1935.8,350.6 L1937.4,349.8 L1939.1,350.3 L1940.7,350.1 L1942.3,350.7 L1943.9,350.6 L1945.5,349.8 L1947.1,350.0 L1948.7,349.5 L1950.3,349.8 L1951.9,350.2 L1953.6,350.2 L1955.2,349.7 L1956.8,349.4 L1958.4,349.2 L1960.0,349.5 L1961.7,349.6 L1963.3,349.9 L1965.0,348.9 L1966.6,349.6 L1968.2,348.7 L1969.9,348.8 L1971.5,348.8 L1973.2,349.3 L1974.8,348.8 L1976.5,348.8 L1978.2,349.1 L1979.8,348.4 L1981.5,349.1 L1983.1,348.3 L1984.8,348.7 L1986.4,348.3 L1988.0,348.2 L1989.7,348.6 L1991.4,348.4 L1993.0,348.3 L1994.7,348.3 L1996.3,348.4 L1998.0,347.9 L1999.6,347.9 L2001.2,348.3 L2002.9,348.3 L2004.5,348.1 L2006.2,348.0 L2007.0,290.6 L2008.7,291.5 L2010.3,291.7 L2012.0,292.0 L2013.6,292.5 L2015.2,291.8 L2016.9,292.5 L2018.5,292.6 L2020.1,292.8 L2021.8,292.2 L2023.4,292.2 L2025.0,292.5 L2026.8,293.1 L2028.7,292.4 L2030.6,293.5 L2032.4,293.0 L2033.5,394.0 L2154.0,394.0 L2154.3,350.0 L2155.0,301.0 L2156.8,301.5 L2158.6,300.7 L2160.4,300.9 L2162.2,301.5 L2163.9,301.0 L2165.7,300.9 L2167.5,301.8 L2169.3,301.5 L2170.0,350.6 L2171.7,350.4 L2173.3,350.8 L2175.0,350.0 L2176.7,350.2 L2178.3,350.5 L2180.0,349.7 L2181.7,349.8 L2183.3,350.3 L2185.0,350.5 L2186.7,350.6 L2188.3,349.5 L2190.0,349.9 L2191.7,350.1 L2193.3,349.7 L2195.0,349.9 L2196.7,349.2 L2198.3,349.0 L2200.0,349.5 L2201.6,349.0 L2203.2,348.9 L2204.8,349.5 L2206.4,349.4 L2208.0,349.5 L2209.6,349.0 L2211.2,349.0 L2212.8,349.0 L2214.4,349.7 L2216.0,349.9 L2217.6,349.8 L2219.2,348.8 L2220.8,348.7 L2222.4,349.8 L2224.0,349.2 L2225.6,349.5 L2227.2,349.0 L2228.8,349.1 L2230.4,349.1 L2232.0,349.0 L2233.6,349.2 L2235.2,348.5 L2236.8,349.3 L2238.4,349.4 L2240.0,349.0 L2241.7,348.6 L2243.3,348.9 L2245.0,349.3 L2246.7,348.9 L2248.3,348.6 L2250.0,348.6 L2251.7,349.0 L2253.3,348.4 L2255.0,349.5 L2256.7,349.4 L2258.4,349.2 L2260.0,349.4 L2261.7,349.2 L2263.4,348.9 L2265.0,349.1 L2266.7,349.0 L2268.4,349.6 L2270.0,349.4 L2271.7,349.0 L2273.0,394.0 L2376.5,394.0" fill="none" stroke="#3a509f" stroke-width="2.0" stroke-linejoin="round"/>
<path d="M701.9,456.2 L703.1,455.9 L704.3,455.1 L705.5,454.5 L706.7,453.9 L707.9,453.0 L709.1,452.6 L710.3,452.0 L711.5,451.2 L712.7,450.6 L713.9,449.9 L715.1,449.1 L716.3,448.6 L717.5,447.5 L719.0,451.8 L720.4,455.9 L721.9,459.7 L723.1,460.9 L724.4,462.0 L726.0,460.3 L727.5,458.3 L728.8,458.2 L730.0,457.5 L731.3,456.8 L732.7,456.8 L734.2,456.5 L735.6,456.3 L737.0,456.4 L738.4,457.0 L739.7,457.0 L741.1,457.2 L742.5,457.5 L744.0,460.2 L745.4,461.2 L746.9,465.3 L748.5,465.6 L750.0,464.4 L751.9,471.0 L753.5,472.0 L755.0,474.2 L756.5,475.9 L758.1,476.5 L759.4,478.4 L760.6,481.7 L761.9,487.6 L763.5,489.1 L765.0,491.8 L766.5,491.4 L767.9,493.2 L769.4,492.9 L771.0,493.6 L772.5,492.0 L774.0,496.8 L775.6,500.7 L777.1,499.5 L778.5,502.4 L780.0,501.0 L781.2,503.1 L782.5,503.5 L783.8,504.4 L785.0,504.7 L786.2,503.3 L787.5,505.6 L788.8,504.7 L790.0,505.5 L791.2,506.2 L792.5,506.1 L793.8,506.4 L795.0,507.9 L796.3,508.4 L797.5,508.5 L798.8,510.3 L800.0,510.0 L801.3,510.0 L802.5,509.7 L803.8,508.2 L805.0,509.1 L806.3,511.3 L807.5,511.0 L808.8,512.9 L810.0,512.6 L811.3,510.9 L812.5,513.4 L813.8,513.4 L815.0,511.2 L816.3,513.4 L817.5,512.2 L818.8,512.4 L820.2,514.7 L821.7,513.7 L823.1,515.4 L824.5,516.6 L826.0,516.2 L827.4,515.7 L828.8,517.2 L830.0,516.2 L831.3,514.9 L832.5,513.0 L834.0,514.8 L835.6,514.9 L837.2,513.0 L838.8,511.3 L840.0,512.3 L841.3,511.8 L842.5,511.7 L843.8,511.6 L845.0,511.2 L846.3,510.9 L847.5,510.7 L848.8,510.2 L850.0,510.1 L851.3,509.6 L852.5,509.5 L853.8,509.1 L855.0,508.6 L856.3,507.9 L857.5,507.1 L858.8,506.8 L860.0,505.9 L861.3,505.1 L862.5,504.4 L863.8,503.9 L865.0,503.7 L866.3,503.1 L867.5,503.1 L868.8,503.1 L870.0,503.1 L871.3,502.7 L872.5,502.7 L873.8,503.1 L875.0,503.0 L876.3,502.5 L877.5,501.5 L878.8,500.9 L880.0,500.5 L881.3,500.1 L882.5,499.7 L883.8,498.8 L885.0,498.5 L886.3,497.7 L887.5,497.2 L888.8,497.0 L890.0,496.8 L891.3,496.6 L892.5,496.3 L893.8,496.2 L895.0,495.8 L896.3,495.7 L897.5,495.8 L898.8,495.7 L900.0,495.0 L901.3,494.6 L902.5,494.6 L903.8,494.1 L905.0,493.7 L906.3,492.9 L907.5,492.3 L908.8,491.4 L910.0,491.0 L911.3,489.9 L912.5,489.3 L913.8,488.7 L915.0,487.6 L916.3,486.9 L917.5,486.3 L918.8,485.6 L920.0,484.5 L921.3,483.7 L922.5,482.3 L923.8,481.5 L925.0,479.8 L926.3,478.5 L927.5,477.6 L928.8,476.2 L930.0,475.1 L931.3,473.0 L932.5,471.4 L933.8,469.1 L935.0,468.3 L936.3,467.6 L937.5,466.3 L938.8,465.5 L940.0,464.9 L941.3,463.9 L942.5,462.8 L943.8,461.9 L945.0,461.2 L946.3,460.6 L947.5,459.6 L948.8,458.6 L950.0,458.4 L951.3,457.8 L952.5,457.5 L953.8,456.9 L955.0,456.4 L956.3,455.6 L957.5,458.1 L958.8,460.1 L960.0,462.4 L961.2,463.1 L962.5,464.0 L963.8,464.6 L965.0,464.8 L966.2,464.0 L967.5,463.1 L968.8,462.1 L970.0,461.2 L971.4,460.9 L972.8,460.5 L974.2,460.4 L975.6,460.2 L976.9,460.8 L978.1,461.7 L979.4,462.3 L980.6,462.8 L981.9,464.0 L983.5,467.4 L985.0,470.5 L986.3,471.7 L987.5,473.4 L988.8,474.8 L990.0,476.2 L991.3,477.8 L992.5,479.4 L993.8,481.3 L995.0,482.6 L996.3,484.7 L997.5,486.6 L998.8,488.0 L1000.0,489.2 L1001.3,491.7 L1002.5,493.2 L1003.8,493.0 L1005.0,495.3 L1006.3,495.7 L1007.5,497.6 L1008.8,498.3 L1010.0,498.4 L1011.3,499.2 L1012.5,501.1 L1013.8,502.9 L1015.0,505.7 L1016.3,507.3 L1017.5,508.0 L1018.8,509.9 L1020.0,510.1 L1021.3,510.6 L1022.7,510.7 L1024.2,511.0 L1025.6,511.0 L1027.0,512.1 L1028.4,512.0 L1029.7,513.5 L1031.1,513.9 L1032.5,515.0 L1033.8,515.4 L1035.0,515.8 L1036.2,516.3 L1037.5,516.9 L1038.8,516.7 L1040.0,516.9 L1041.3,517.9 L1042.5,518.7 L1043.8,518.6 L1045.0,519.2 L1046.3,519.4 L1047.5,520.7 L1048.8,521.4 L1050.0,520.6 L1051.3,520.4 L1052.5,520.8 L1053.8,521.3 L1055.0,521.3 L1056.3,522.7 L1057.5,521.2 L1058.8,521.8 L1060.0,521.6 L1061.3,522.8 L1062.5,522.8 L1063.8,521.5 L1065.0,521.1 L1066.3,521.6 L1067.5,521.6 L1068.8,522.0 L1070.0,520.2 L1071.2,520.8 L1072.5,521.5 L1073.8,522.1 L1075.0,522.6 L1076.3,521.8 L1077.5,520.3 L1078.8,518.6 L1080.0,519.0 L1081.3,519.4 L1082.5,519.7 L1083.8,520.5 L1085.0,519.1 L1086.3,518.2 L1087.5,517.3 L1088.8,516.0 L1090.0,514.9 L1091.2,514.8 L1092.5,514.4 L1093.8,513.7 L1095.0,513.4 L1096.2,513.2 L1097.5,512.5 L1098.8,512.1 L1100.0,511.8 L1101.3,512.1 L1102.5,511.8 L1103.8,511.4 L1105.0,511.2 L1106.3,511.0 L1107.5,510.2 L1108.8,510.0 L1110.0,509.2 L1111.3,508.3 L1112.5,507.5 L1113.8,507.7 L1115.0,507.5 L1116.3,507.6 L1117.5,507.4 L1118.8,507.2 L1120.0,506.8 L1121.3,506.7 L1122.5,506.4 L1123.8,505.9 L1125.0,505.8 L1126.3,505.1 L1127.5,504.8 L1128.8,504.5 L1130.0,503.7 L1131.3,503.4 L1132.5,502.7 L1133.8,502.6 L1135.0,501.7 L1136.3,501.7 L1137.5,501.6 L1138.8,501.5 L1140.0,500.9 L1141.3,501.0 L1142.5,501.1 L1143.8,500.1 L1145.0,499.6 L1146.2,498.9 L1147.5,498.5 L1148.8,497.6 L1150.0,497.1 L1151.4,495.4 L1152.8,494.2 L1154.1,492.6 L1155.5,491.5 L1156.9,489.6 L1158.2,490.1 L1159.4,489.9 L1160.7,490.2 L1161.9,490.3 L1163.2,488.8 L1164.4,488.0 L1165.7,486.4 L1166.9,485.2 L1168.2,484.3 L1169.6,483.6 L1171.0,482.9 L1172.3,482.3 L1173.7,481.3 L1175.0,480.7 L1176.3,480.1 L1177.5,480.0 L1178.8,479.8 L1180.0,479.9 L1181.3,479.5 L1182.5,479.1 L1183.8,478.5 L1185.0,478.0 L1186.3,477.4 L1187.5,476.3 L1188.8,475.8 L1190.0,474.9 L1191.3,473.9 L1192.5,473.7 L1193.8,472.8 L1195.0,471.7 L1196.2,471.4 L1197.5,470.6 L1198.8,470.1 L1200.0,469.6 L1201.2,468.8 L1202.5,468.3 L1203.8,467.7 L1205.0,467.3 L1206.2,466.4 L1207.5,465.8 L1208.8,466.3 L1210.0,466.2 L1211.3,466.7 L1212.5,466.6 L1213.8,466.8 L1215.0,466.7 L1216.3,467.1 L1217.7,467.8 L1219.0,468.9 L1220.4,470.0 L1221.7,471.5 L1223.1,472.6 L1224.7,471.6 L1226.3,470.9 L1227.8,471.7 L1229.4,472.0 L1230.8,473.7 L1232.2,475.8 L1233.6,477.8 L1235.0,479.8 L1236.3,483.9 L1237.5,487.7 L1238.8,492.2 L1240.2,490.6 L1241.7,489.4 L1243.1,488.2 L1245.0,481.5 L1246.3,468.2 L1247.5,454.6 L1248.8,441.2 L1250.6,437.4 L1251.8,437.2 L1253.1,437.4 L1254.3,437.6 L1255.6,437.7 L1256.8,437.6 L1258.1,437.5 L1259.3,437.5 L1260.6,437.1 L1261.8,437.3 L1263.1,437.3 L1264.3,437.4 L1265.6,437.1 L1266.8,437.2 L1268.1,437.3 L1269.3,443.8 L1270.6,450.2 L1272.5,457.6 L1273.8,463.6 L1275.0,470.7 L1276.3,477.3 L1277.5,478.3 L1278.8,479.6 L1280.0,479.1 L1281.3,477.3 L1282.5,477.7 L1283.8,477.5 L1285.6,480.0 L1286.8,478.8 L1288.1,477.4 L1289.3,474.1 L1290.6,474.2 L1292.1,475.3 L1293.5,476.2 L1295.0,477.8 L1296.2,477.9 L1297.5,478.3 L1298.8,478.3 L1300.0,477.1 L1301.2,477.9 L1302.5,476.0 L1303.8,477.8 L1305.0,478.5 L1306.2,482.1 L1307.5,481.6 L1308.8,483.7 L1310.0,483.1 L1311.3,483.4 L1312.5,483.7 L1313.8,483.2 L1315.0,482.1 L1316.3,479.7 L1317.7,480.5 L1319.2,481.3 L1320.6,481.4 L1322.0,482.3 L1323.4,480.1 L1324.9,480.8 L1326.3,478.4 L1327.5,479.0 L1328.8,479.3 L1330.0,477.6 L1331.3,478.2 L1332.5,477.6 L1333.8,477.9 L1335.0,479.3 L1336.3,480.3 L1337.5,478.4 L1338.8,476.4 L1340.0,474.3 L1341.2,473.3 L1342.5,472.0 L1343.8,470.6 L1345.0,469.5 L1346.3,469.7 L1347.5,469.3 L1348.8,469.5 L1350.0,469.7 L1351.3,469.6 L1352.5,469.8 L1353.8,470.0 L1355.0,469.9 L1356.3,470.2 L1357.5,470.2 L1358.8,469.3 L1360.0,468.2 L1361.2,467.4 L1362.5,466.0 L1364.0,465.1 L1365.4,463.4 L1366.9,462.6 L1368.3,462.2 L1369.7,461.9 L1371.1,461.6 L1372.5,461.6 L1373.8,461.9 L1375.0,462.2 L1376.2,462.5 L1377.5,462.6 L1378.8,463.1 L1380.0,463.3 L1381.2,462.4 L1382.5,461.2 L1383.8,461.7 L1385.0,462.2 L1386.2,462.9 L1387.5,463.1 L1389.0,462.1 L1390.4,461.0 L1391.9,460.2 L1393.2,459.6 L1394.6,459.2 L1396.0,459.4 L1397.3,459.2 L1398.7,458.9 L1400.0,458.6 L1401.5,459.3 L1403.1,459.7 L1404.5,458.7 L1405.9,457.3 L1407.4,456.2 L1408.8,455.3 L1410.0,455.4 L1411.3,455.3 L1412.5,455.2 L1413.8,455.6 L1415.0,455.6 L1416.3,455.4 L1417.5,455.1 L1418.8,454.7 L1420.0,454.2 L1421.3,453.7 L1422.5,453.7 L1423.8,452.6 L1425.0,451.2 L1426.2,450.1 L1427.5,448.7 L1428.8,447.7 L1430.0,446.1 L1431.2,445.6 L1432.5,444.7 L1433.8,444.1 L1435.0,442.9 L1436.2,443.5 L1437.5,443.3 L1438.8,443.8 L1440.0,444.2 L1441.2,443.9 L1442.5,444.2 L1443.8,443.6 L1445.0,443.0 L1446.2,442.2 L1447.5,442.1 L1448.8,441.4 L1450.0,440.5 L1451.3,441.5 L1452.5,442.5 L1453.8,443.1 L1455.0,444.1 L1456.3,445.5 L1457.5,446.2 L1458.8,447.3 L1460.0,448.6 L1461.3,449.7 L1462.7,455.9 L1464.2,462.2 L1465.6,468.7 L1466.8,470.8 L1468.1,472.4 L1469.3,473.7 L1470.6,475.8 L1472.1,482.6 L1473.5,489.8 L1475.0,496.4 L1476.2,498.8 L1477.5,500.2 L1478.8,500.2 L1480.0,502.1 L1481.2,504.8 L1482.5,509.4 L1483.8,511.5 L1485.0,515.0 L1486.4,515.2 L1487.8,513.8 L1489.2,513.9 L1490.6,513.1 L1491.9,513.0 L1493.1,512.3 L1494.4,513.4 L1495.9,516.5 L1497.3,518.5 L1498.8,520.6 L1500.0,521.1 L1501.3,521.2 L1502.8,519.2 L1504.4,516.7 L1505.7,509.8 L1506.9,502.9 L1508.5,499.8 L1510.0,496.5 L1511.2,495.1 L1512.5,494.2 L1513.8,493.2 L1515.0,492.0 L1516.2,490.0 L1517.5,488.3 L1518.8,487.0 L1520.0,485.1 L1521.3,481.3 L1522.5,478.0 L1523.8,474.2 L1525.2,475.8 L1526.5,476.6 L1527.9,477.8 L1529.2,478.9 L1530.6,479.7 L1532.0,480.1 L1533.4,479.9 L1534.9,479.9 L1536.3,480.2 L1537.5,479.1 L1538.8,478.6 L1540.0,478.3 L1541.3,477.3 L1542.5,476.7 L1543.8,476.3 L1545.0,475.4 L1546.2,476.3 L1547.5,476.7 L1548.8,476.6 L1550.0,477.2 L1551.2,477.8 L1552.5,478.0 L1553.8,477.9 L1555.0,477.3 L1556.2,476.7 L1557.5,476.5 L1558.8,476.1 L1560.0,475.5 L1561.2,475.8 L1562.5,475.9 L1563.8,475.8 L1565.0,475.9 L1566.2,476.1 L1567.5,476.1 L1569.0,477.5 L1570.4,479.3 L1571.9,480.4 L1573.3,480.6 L1574.7,480.0 L1576.1,480.1 L1577.5,479.6 L1578.8,480.0 L1580.0,480.5 L1581.2,480.7 L1582.5,481.0 L1583.8,480.9 L1585.0,481.3 L1586.2,480.9 L1587.5,480.9 L1588.8,480.6 L1590.0,480.2 L1591.2,480.3 L1592.5,480.1 L1593.8,479.6 L1595.0,479.3 L1596.2,478.5 L1597.5,478.0 L1598.8,477.5 L1600.0,477.3 L1601.3,477.8 L1602.5,478.4 L1603.8,478.9 L1605.0,478.9 L1606.3,478.1 L1607.5,478.3 L1608.8,477.8 L1610.0,477.5 L1611.3,477.6 L1612.5,477.3 L1613.8,477.2 L1615.0,477.2 L1616.3,477.0 L1617.8,476.0 L1619.4,475.1 L1620.6,473.1 L1621.9,471.1 L1623.1,469.5 L1624.3,468.5 L1625.6,468.3 L1626.8,467.3 L1628.1,466.8 L1629.5,466.3 L1630.9,466.2 L1632.4,465.9 L1633.8,465.5 L1635.0,464.0 L1636.3,463.2 L1637.5,462.2 L1638.8,461.1 L1640.0,460.3 L1641.3,458.5 L1642.5,457.5 L1643.8,456.4 L1645.0,455.3 L1646.3,454.8 L1647.5,455.1 L1648.8,455.3 L1650.0,455.0 L1651.3,455.1 L1652.5,455.1 L1653.8,454.2 L1655.0,453.9 L1656.3,453.4 L1657.8,452.0 L1659.4,450.3 L1660.6,450.0 L1661.9,450.2 L1663.1,449.7 L1664.4,449.3 L1665.6,448.6 L1666.9,448.5 L1668.3,448.5 L1669.6,448.2 L1671.0,448.2 L1672.3,448.3 L1673.7,447.9 L1675.0,447.7 L1676.3,450.3 L1677.5,452.3 L1678.8,454.1 L1680.2,457.2 L1681.7,460.3 L1683.1,462.8 L1684.7,463.4 L1686.3,463.9 L1687.5,462.6 L1688.8,460.9 L1690.0,459.6 L1691.2,459.3 L1692.5,459.1 L1693.8,459.3 L1695.0,458.9 L1696.3,459.7 L1697.5,459.9 L1698.8,460.5 L1700.0,462.6 L1701.3,465.0 L1702.5,471.0 L1703.8,477.3 L1705.0,479.5 L1706.3,481.9 L1707.5,484.0 L1708.8,486.3 L1710.0,487.8 L1711.3,488.9 L1712.5,490.2 L1714.4,493.6 L1715.9,494.3 L1717.3,494.1 L1718.8,496.9 L1720.0,496.4 L1721.3,496.6 L1722.5,496.3 L1723.8,497.3 L1725.0,498.0 L1726.3,498.7 L1727.5,500.6 L1728.8,500.1 L1730.0,500.9 L1731.3,503.4 L1732.5,503.6 L1733.8,507.0 L1735.0,506.1 L1736.3,508.4 L1737.5,509.3 L1738.8,511.0 L1740.0,509.3 L1741.3,511.3 L1742.5,511.9 L1743.8,511.3 L1745.0,514.3 L1746.3,512.9 L1747.5,514.7 L1748.8,514.8 L1750.0,514.2 L1751.2,516.2 L1752.5,516.7 L1753.8,513.5 L1755.0,511.4 L1756.2,516.3 L1757.5,517.9 L1758.8,519.0 L1760.0,519.5 L1761.3,520.1 L1762.5,518.9 L1763.8,520.9 L1765.0,519.7 L1766.3,521.3 L1767.5,520.5 L1768.8,518.3 L1770.0,517.9 L1771.3,518.0 L1772.5,519.4 L1773.8,518.3 L1775.0,518.2 L1776.3,519.7 L1777.5,519.9 L1778.8,522.4 L1780.0,522.6 L1781.3,522.2 L1782.5,521.6 L1783.8,521.6 L1785.0,523.5 L1786.3,523.3 L1787.5,524.1 L1788.8,524.6 L1790.0,522.5 L1791.2,523.5 L1792.5,524.1 L1793.8,521.7 L1795.0,523.1 L1796.2,521.9 L1797.5,521.4 L1798.8,520.7 L1800.0,519.7 L1801.2,519.2 L1802.5,518.3 L1803.8,517.7 L1805.0,516.9 L1806.2,516.0 L1807.5,515.4 L1808.8,514.6 L1810.0,514.0 L1811.3,512.6 L1812.5,511.3 L1813.8,510.2 L1815.0,509.0 L1816.3,507.6 L1817.5,507.2 L1818.8,506.3 L1820.0,505.5 L1821.3,505.0 L1822.5,504.4 L1823.8,503.6 L1825.0,503.1 L1826.2,502.4 L1827.5,501.5 L1828.8,500.7 L1830.0,499.5 L1831.2,498.9 L1832.5,498.0 L1833.8,497.5 L1835.0,497.4 L1836.2,496.9 L1837.5,496.9 L1838.8,496.4 L1840.0,495.8 L1841.3,495.1 L1842.5,494.5 L1843.8,493.8 L1845.0,493.5 L1846.3,493.2 L1847.5,492.5 L1848.8,491.8 L1850.0,491.4 L1851.3,490.4 L1852.5,490.0 L1853.8,490.1 L1855.0,490.4 L1856.2,490.1 L1857.5,490.3 L1858.8,489.4 L1860.0,488.1 L1861.2,486.9 L1862.5,485.7 L1863.8,485.0 L1865.0,484.5 L1866.2,483.9 L1867.5,483.7 L1868.8,483.2 L1870.0,482.4 L1871.2,483.1 L1872.5,482.9 L1873.8,483.2 L1875.0,483.8 L1876.2,484.0 L1877.5,484.3 L1878.8,484.4 L1880.0,483.5 L1881.2,483.2 L1882.5,482.9 L1883.8,482.5 L1885.0,481.5 L1886.3,480.7 L1887.5,480.3 L1888.8,479.5 L1890.0,478.7 L1891.3,478.1 L1892.5,477.7 L1893.8,477.1 L1895.0,476.6 L1896.3,476.0 L1897.5,475.7 L1898.8,475.2 L1900.0,474.3 L1901.2,474.2 L1902.5,474.3 L1903.8,473.8 L1905.0,473.9 L1906.3,473.1 L1907.5,472.2 L1908.8,471.6 L1910.3,469.9 L1911.9,467.9 L1913.2,467.8 L1914.4,467.3 L1916.0,472.7 L1917.5,478.0 L1918.8,478.8 L1920.0,479.9 L1921.2,480.7 L1922.5,481.3 L1923.8,480.9 L1925.0,480.6 L1926.3,480.0 L1927.5,479.8 L1928.8,479.2 L1930.0,478.9 L1931.3,478.6 L1932.5,478.4 L1933.8,478.5 L1935.0,477.9 L1936.4,478.8 L1937.8,479.6 L1939.1,480.1 L1940.5,480.6 L1941.9,481.7 L1943.5,486.3 L1945.0,490.3 L1946.2,492.2 L1947.5,494.1 L1948.8,496.0 L1950.0,497.4 L1951.2,499.5 L1952.5,501.1 L1953.8,503.3 L1955.0,504.9 L1956.3,505.9 L1957.5,507.2 L1958.8,508.2 L1960.0,509.2 L1961.3,510.0 L1962.5,510.3 L1963.8,510.9 L1965.0,511.5 L1966.3,512.4 L1967.5,512.7 L1968.8,511.1 L1970.0,511.9 L1971.2,512.8 L1972.5,511.8 L1973.8,513.1 L1975.0,514.0 L1976.3,514.8 L1977.5,515.0 L1978.8,514.3 L1980.2,513.2 L1981.6,515.8 L1983.0,516.2 L1984.4,517.8 L1985.7,521.0 L1986.9,526.1 L1988.2,525.7 L1989.4,522.6 L1991.3,519.1 L1993.1,518.0 L1994.6,519.8 L1996.0,522.4 L1997.5,525.6 L1998.8,526.0 L2000.0,523.5 L2001.3,523.8 L2002.5,522.8 L2003.8,523.9 L2005.0,524.7 L2006.3,525.3 L2007.5,526.0 L2008.8,523.3 L2010.0,524.7 L2011.3,524.6 L2012.5,526.2 L2013.9,527.0 L2015.3,527.6 L2016.7,528.4 L2018.1,527.0 L2019.5,526.8 L2020.9,525.4 L2022.2,525.1 L2023.6,522.4 L2025.0,521.5 L2026.2,522.3 L2027.5,525.5 L2028.8,522.3 L2030.0,521.5 L2031.3,519.8 L2032.7,519.1 L2034.1,518.2 L2035.5,517.7 L2036.9,516.7 L2038.1,516.1 L2039.4,515.0 L2040.6,514.1 L2041.9,513.4 L2043.1,512.4 L2044.5,511.6 L2045.9,510.6 L2047.2,509.8 L2048.6,509.5 L2050.0,508.4 L2051.5,508.9 L2052.9,509.7 L2054.4,510.6 L2055.9,510.4 L2057.3,509.4 L2058.8,509.2 L2060.1,508.2 L2061.3,507.3 L2062.6,506.7 L2063.8,505.6 L2065.1,504.6 L2066.3,504.0 L2067.5,503.4 L2068.8,502.8 L2070.0,501.9 L2071.3,501.7 L2072.5,501.0 L2073.8,500.4 L2075.0,499.4 L2076.3,499.0 L2077.5,498.3 L2078.8,497.4 L2080.0,496.6 L2081.3,496.3 L2082.5,496.0 L2083.8,495.6 L2085.0,495.4 L2086.3,495.3 L2087.5,494.6 L2088.8,494.4 L2090.0,494.0 L2091.3,493.9 L2092.5,494.2 L2093.8,493.5 L2095.0,493.7 L2096.3,493.7 L2097.5,493.6 L2098.8,493.4 L2100.0,493.0 L2101.5,493.2 L2102.9,493.1 L2104.4,493.0 L2105.8,493.7 L2107.2,493.7 L2108.5,494.8 L2109.9,495.0 L2111.3,495.7 L2112.5,495.3 L2113.8,495.6 L2115.0,495.0 L2116.3,495.2 L2117.5,494.9 L2118.8,494.8 L2120.0,494.7 L2121.2,494.9 L2122.5,495.1 L2123.8,494.8 L2125.0,495.0 L2126.2,494.9 L2127.5,494.9 L2128.8,494.7 L2130.0,493.9 L2131.3,493.3 L2132.6,493.2 L2134.0,493.1 L2135.3,492.6 L2136.6,492.6 L2137.9,492.3 L2139.2,492.1 L2140.6,491.6 L2141.9,491.3 L2143.4,490.3 L2144.8,489.4 L2146.3,488.5 L2147.5,488.5 L2148.8,489.1 L2150.0,489.3 L2151.8,488.7 L2153.5,488.3 L2155.2,491.9 L2156.9,494.8 L2158.2,496.1 L2159.6,496.6 L2160.9,497.7 L2162.3,498.1 L2163.7,499.5 L2165.0,500.0 L2166.3,500.4 L2167.5,500.1 L2168.8,500.3 L2170.0,500.6 L2171.3,500.4 L2172.5,500.6 L2173.8,500.9 L2175.0,501.2 L2176.3,501.0 L2177.5,501.0 L2178.8,501.2 L2180.0,504.5 L2181.3,506.9 L2182.5,510.1 L2183.8,511.2 L2185.0,512.6 L2186.3,513.6 L2187.5,515.1 L2188.8,516.5 L2190.0,516.9 L2191.3,517.2 L2192.5,517.5 L2193.8,518.7 L2195.0,519.5 L2196.3,521.1 L2197.5,522.1 L2198.8,523.1 L2200.1,523.8 L2201.3,524.3 L2202.6,524.9 L2203.8,525.4 L2205.1,526.3 L2206.3,526.9 L2207.6,527.5 L2208.8,527.8 L2210.1,528.3 L2211.3,528.3 L2212.6,528.5 L2213.8,528.6 L2215.1,529.6 L2216.3,528.0 L2217.5,528.3 L2218.8,529.0 L2220.0,528.0 L2221.2,528.1 L2222.5,530.1 L2223.8,531.7 L2225.0,531.5 L2226.2,533.6 L2227.5,533.0 L2228.9,536.2 L2230.3,536.4 L2231.7,537.1 L2233.1,539.7 L2234.3,536.4 L2235.6,534.1 L2237.1,534.7 L2238.5,535.4 L2240.0,535.6 L2241.3,538.0 L2242.5,537.2 L2243.8,540.2 L2245.1,538.6 L2246.3,536.4 L2247.5,539.4 L2248.8,540.5 L2250.0,542.6 L2251.2,544.0 L2252.5,543.2 L2253.8,544.1 L2255.0,545.6 L2256.3,543.4 L2257.5,543.6 L2258.8,543.1 L2260.1,542.4 L2261.3,541.8 L2262.6,542.9 L2263.8,543.0 L2265.1,542.7 L2266.3,542.2 L2267.6,542.9 L2268.8,542.6 L2270.2,541.5 L2271.6,542.4 L2273.0,542.2 L2274.4,542.5 L2275.8,542.5 L2277.2,542.0 L2278.6,541.1 L2280.0,539.8 L2281.2,537.0 L2282.5,534.3 L2283.8,533.7 L2285.0,532.6 L2286.2,531.8 L2287.5,530.4 L2288.8,530.0 L2290.0,528.6 L2291.2,528.4 L2292.5,528.0 L2293.8,527.4 L2295.0,526.5 L2296.2,526.3 L2297.5,525.6 L2298.8,524.8 L2300.0,524.5 L2301.2,524.0 L2302.5,523.6 L2303.8,522.9 L2305.0,522.6 L2306.2,521.8 L2307.5,520.8 L2308.8,520.0 L2310.0,519.5 L2311.2,518.6 L2312.5,517.7 L2313.8,516.9 L2315.0,516.6 L2316.2,515.6 L2317.5,514.7 L2318.8,513.4 L2320.2,512.7 L2321.5,511.3 L2322.9,510.1 L2324.2,508.6 L2325.6,507.4 L2326.9,506.2 L2328.1,505.5 L2329.4,505.3 L2330.6,504.6 L2331.9,504.3 L2333.1,503.4 L2334.5,502.2 L2335.9,500.9 L2337.2,499.8 L2338.6,498.1 L2340.0,497.0 L2341.2,496.3 L2342.5,496.0 L2343.8,495.3 L2345.0,495.2 L2346.2,494.4 L2347.5,494.3 L2348.8,493.7 L2350.0,493.1 L2351.2,493.2 L2352.5,492.6 L2353.8,492.6 L2355.0,492.4 L2356.2,492.1 L2357.5,491.6 L2358.8,490.6 L2360.0,489.3 L2361.2,488.1 L2362.5,487.2 L2363.8,486.1 L2365.0,485.8 L2366.2,485.1 L2367.5,484.2 L2368.8,483.7 L2370.0,482.9 L2371.3,483.0 L2372.6,482.2 L2373.9,482.0 L2375.2,481.6 L2376.5,481.5" fill="none" stroke="#2b9fd9" stroke-width="1.9" stroke-linejoin="round"/>
<path d="M701.9,667.1 L702.9,667.3 L703.9,667.7 L704.9,667.7 L706.0,668.6 L707.0,668.5 L708.0,669.0 L709.0,669.4 L710.0,669.9 L711.0,670.3 L712.1,670.5 L713.1,671.3 L714.2,671.7 L715.2,671.6 L716.3,672.4 L717.3,669.8 L718.3,667.3 L719.3,664.9 L720.3,662.3 L721.3,660.1 L722.3,659.6 L723.4,659.3 L724.4,658.8 L725.6,660.8 L726.9,662.4 L728.0,663.2 L729.1,663.5 L730.2,664.0 L731.3,664.7 L732.4,663.8 L733.4,663.7 L734.5,663.3 L735.6,663.1 L736.7,662.4 L737.7,662.6 L738.8,661.7 L739.9,661.3 L741.0,660.7 L742.0,660.4 L743.1,660.1 L744.4,656.7 L745.6,653.6 L746.7,653.7 L747.8,653.5 L748.9,654.4 L750.0,651.9 L751.3,649.0 L752.3,647.9 L753.4,647.4 L754.4,643.5 L755.4,644.4 L756.5,641.5 L757.5,644.8 L758.8,641.7 L760.0,637.9 L761.3,630.2 L762.5,631.0 L763.8,631.0 L765.0,630.2 L766.1,627.2 L767.2,629.5 L768.3,626.3 L769.4,626.3 L770.6,627.3 L771.9,632.2 L772.9,625.3 L774.0,620.3 L775.0,617.6 L776.0,615.9 L777.1,617.6 L778.1,614.4 L779.2,614.6 L780.2,612.3 L781.3,612.4 L782.3,614.2 L783.4,615.3 L784.4,615.5 L785.4,618.0 L786.5,615.0 L787.5,619.2 L788.6,615.5 L789.6,619.0 L790.7,616.5 L791.8,615.6 L792.9,616.3 L793.9,617.1 L795.0,617.2 L796.0,613.3 L797.0,610.2 L798.0,609.6 L799.0,611.6 L800.0,609.9 L801.3,611.5 L802.5,610.5 L803.8,613.9 L805.0,610.3 L806.3,609.4 L807.5,609.0 L808.5,612.7 L809.5,611.7 L810.5,613.2 L811.5,609.8 L812.5,612.1 L813.8,609.4 L815.0,609.3 L816.3,607.5 L817.4,610.8 L818.5,607.3 L819.7,607.5 L820.8,607.7 L821.9,608.2 L823.1,610.5 L824.4,610.8 L825.6,612.5 L826.7,612.8 L827.7,608.7 L828.8,606.5 L830.0,610.3 L831.3,609.7 L832.5,611.9 L833.8,612.6 L835.0,613.3 L836.3,613.7 L837.5,617.5 L838.5,618.1 L839.6,618.5 L840.6,619.6 L841.7,619.8 L842.8,620.7 L843.8,621.3 L844.9,622.0 L845.9,622.7 L847.0,623.5 L848.1,624.4 L849.2,625.2 L850.2,626.1 L851.3,626.7 L852.3,627.7 L853.4,628.1 L854.4,628.5 L855.4,629.3 L856.5,630.3 L857.5,630.3 L858.6,631.6 L859.6,632.7 L860.7,633.2 L861.8,634.3 L862.9,635.0 L863.9,635.9 L865.0,637.0 L866.1,637.3 L867.1,637.5 L868.2,638.0 L869.3,638.3 L870.4,638.8 L871.4,638.8 L872.5,639.2 L873.6,639.6 L874.7,640.0 L875.8,640.7 L876.9,640.9 L878.0,641.6 L879.1,641.7 L880.2,642.0 L881.3,642.6 L882.4,642.9 L883.4,644.0 L884.5,644.6 L885.6,644.9 L886.7,645.5 L887.7,646.5 L888.8,647.1 L889.8,647.3 L890.9,647.2 L891.9,647.9 L892.9,647.7 L894.0,648.3 L895.0,648.5 L896.0,649.0 L897.0,649.0 L898.0,648.8 L899.0,649.6 L900.0,649.7 L901.0,649.8 L902.0,649.7 L903.0,650.3 L904.0,650.3 L905.0,650.7 L906.0,651.5 L907.1,652.0 L908.1,652.0 L909.2,653.0 L910.2,653.4 L911.3,654.2 L912.4,654.3 L913.4,654.8 L914.5,655.2 L915.6,655.4 L916.7,656.0 L917.7,656.6 L918.8,656.6 L919.9,657.1 L921.0,658.0 L922.1,658.4 L923.1,658.8 L924.2,659.0 L925.3,659.4 L926.4,660.0 L927.5,660.9 L928.6,660.8 L929.6,661.2 L930.7,661.0 L931.8,661.3 L932.9,661.6 L933.9,661.9 L935.0,661.7 L936.1,662.4 L937.1,662.5 L938.2,662.5 L939.3,663.1 L940.4,663.3 L941.4,663.8 L942.5,664.3 L943.6,664.2 L944.6,664.6 L945.7,664.6 L946.8,665.1 L947.9,664.9 L948.9,665.5 L950.0,665.4 L951.1,666.0 L952.2,666.1 L953.4,666.5 L954.5,666.8 L955.6,667.2 L956.9,665.1 L958.1,662.8 L959.4,660.5 L960.5,660.3 L961.6,660.2 L962.8,659.6 L963.9,659.4 L965.0,659.0 L966.1,659.9 L967.2,660.2 L968.4,661.1 L969.5,661.5 L970.6,662.2 L971.7,662.4 L972.8,662.3 L973.9,662.2 L975.0,662.0 L976.0,661.8 L977.1,660.8 L978.1,660.3 L979.2,659.5 L980.2,658.9 L981.3,658.1 L982.5,656.1 L983.8,653.8 L985.0,651.3 L986.0,650.4 L987.0,649.4 L988.0,648.8 L989.0,647.5 L990.0,646.8 L991.3,644.8 L992.5,642.0 L993.8,640.1 L994.8,638.7 L995.9,637.3 L996.9,635.8 L997.9,634.4 L999.0,633.5 L1000.0,632.1 L1001.1,631.1 L1002.1,629.7 L1003.2,629.1 L1004.3,627.8 L1005.4,625.5 L1006.4,626.2 L1007.5,625.5 L1008.5,622.9 L1009.6,625.6 L1010.6,624.4 L1011.7,625.7 L1012.8,625.5 L1013.8,624.0 L1015.0,618.7 L1016.3,617.8 L1017.4,615.3 L1018.6,611.9 L1019.7,613.3 L1020.8,611.3 L1022.0,607.7 L1023.1,606.3 L1024.3,608.3 L1025.6,614.0 L1026.7,611.4 L1027.8,610.3 L1028.9,608.9 L1030.0,607.0 L1031.3,607.1 L1032.5,604.4 L1033.8,602.8 L1034.9,602.4 L1035.9,603.1 L1037.0,604.5 L1038.1,600.7 L1039.2,603.7 L1040.2,603.4 L1041.3,601.8 L1042.5,602.9 L1043.8,605.3 L1045.0,605.8 L1046.1,606.0 L1047.1,606.9 L1048.2,605.8 L1049.3,603.0 L1050.4,601.7 L1051.4,605.6 L1052.5,602.4 L1053.6,604.8 L1054.6,602.4 L1055.7,603.7 L1056.8,603.6 L1057.9,605.6 L1058.9,606.9 L1060.0,605.0 L1061.0,605.8 L1062.0,605.3 L1063.0,605.2 L1064.0,609.2 L1065.0,605.6 L1066.0,610.1 L1067.0,609.3 L1068.0,606.9 L1069.0,611.4 L1070.0,608.1 L1071.3,609.3 L1072.5,606.1 L1073.8,609.2 L1075.0,609.3 L1076.3,613.8 L1077.5,616.6 L1078.6,616.7 L1079.7,616.1 L1080.9,615.8 L1082.0,615.9 L1083.1,615.9 L1084.2,617.1 L1085.4,618.5 L1086.5,619.9 L1087.7,621.1 L1088.8,622.2 L1090.0,623.8 L1091.0,624.6 L1092.1,625.7 L1093.1,626.6 L1094.1,627.7 L1095.1,628.4 L1096.2,629.7 L1097.2,630.5 L1098.2,631.5 L1099.2,632.2 L1100.3,633.4 L1101.3,634.4 L1102.3,635.1 L1103.3,635.2 L1104.4,635.3 L1105.4,635.8 L1106.4,636.2 L1107.4,636.8 L1108.4,637.3 L1109.4,637.7 L1110.5,638.0 L1111.5,638.4 L1112.5,638.7 L1113.6,639.0 L1114.7,638.7 L1115.8,639.2 L1116.9,639.5 L1118.0,639.7 L1119.1,639.9 L1120.2,640.1 L1121.3,640.6 L1122.3,640.8 L1123.4,641.9 L1124.4,642.9 L1125.4,643.2 L1126.5,644.0 L1127.5,645.2 L1128.6,645.8 L1129.6,645.8 L1130.7,646.3 L1131.8,647.4 L1132.9,647.8 L1133.9,648.3 L1135.0,648.8 L1136.1,649.2 L1137.1,649.5 L1138.2,649.3 L1139.3,649.6 L1140.4,650.3 L1141.4,650.6 L1142.5,650.8 L1143.6,651.0 L1144.6,651.5 L1145.7,652.0 L1146.8,652.3 L1147.9,653.2 L1148.9,653.4 L1150.0,654.1 L1151.2,655.3 L1152.3,656.5 L1153.5,658.1 L1154.6,659.2 L1155.8,660.4 L1156.9,662.1 L1158.0,660.9 L1159.1,660.0 L1160.2,659.2 L1161.3,658.5 L1162.3,659.4 L1163.3,659.8 L1164.3,660.4 L1165.3,661.3 L1166.3,661.8 L1167.4,662.2 L1168.5,662.2 L1169.6,662.8 L1170.7,662.7 L1171.7,662.9 L1172.8,663.2 L1173.9,663.5 L1175.0,663.9 L1176.0,663.4 L1177.0,663.1 L1178.0,662.4 L1179.0,661.7 L1180.0,661.7 L1181.0,661.4 L1182.0,661.5 L1183.0,661.7 L1184.0,662.1 L1185.0,661.8 L1186.0,662.1 L1187.0,662.8 L1188.0,663.1 L1189.0,663.1 L1190.0,663.2 L1191.0,663.9 L1192.0,664.2 L1193.0,664.3 L1194.0,664.9 L1195.0,664.9 L1196.2,663.9 L1197.5,663.2 L1198.6,663.5 L1199.7,663.5 L1200.8,663.9 L1201.9,663.7 L1203.0,664.2 L1204.1,664.3 L1205.2,664.3 L1206.3,665.0 L1207.4,664.4 L1208.5,664.2 L1209.6,664.4 L1210.7,664.2 L1211.7,664.0 L1212.8,663.4 L1213.9,663.6 L1215.0,662.9 L1216.2,662.1 L1217.3,661.1 L1218.5,659.5 L1219.6,658.3 L1220.8,657.5 L1221.9,656.5 L1222.9,656.9 L1224.0,657.6 L1225.0,657.8 L1226.3,657.2 L1227.5,656.6 L1228.8,656.2 L1229.8,654.4 L1230.8,651.8 L1231.8,649.7 L1232.8,647.6 L1233.8,645.3 L1234.8,641.1 L1235.8,636.7 L1236.8,632.3 L1237.8,628.2 L1238.8,623.8 L1239.9,626.6 L1240.9,629.6 L1242.0,632.2 L1243.1,635.3 L1244.1,643.2 L1245.1,651.8 L1246.1,660.2 L1247.1,668.9 L1248.1,677.7 L1249.2,678.4 L1250.4,678.7 L1251.5,679.2 L1252.7,679.9 L1253.8,680.6 L1254.9,680.9 L1255.9,681.7 L1257.0,682.3 L1258.1,682.4 L1259.2,682.9 L1260.2,683.6 L1261.3,683.8 L1262.3,681.6 L1263.3,680.1 L1264.3,678.1 L1265.3,675.5 L1266.3,674.0 L1267.4,668.4 L1268.4,662.9 L1269.5,657.6 L1270.6,652.3 L1271.9,651.0 L1273.1,649.0 L1274.4,647.2 L1275.4,643.6 L1276.5,640.2 L1277.5,636.3 L1278.8,638.1 L1280.0,639.6 L1281.3,641.1 L1282.3,642.2 L1283.4,643.6 L1284.4,644.7 L1285.7,641.8 L1286.9,639.2 L1288.1,640.1 L1289.4,642.1 L1290.6,644.2 L1291.7,642.0 L1292.8,640.9 L1293.9,641.2 L1295.0,639.0 L1296.0,638.8 L1297.0,639.4 L1298.0,639.4 L1299.0,639.3 L1300.0,641.2 L1301.9,644.8 L1302.9,645.0 L1304.0,642.9 L1305.0,641.1 L1306.1,639.1 L1307.1,640.2 L1308.2,641.7 L1309.3,639.7 L1310.4,639.4 L1311.4,641.2 L1312.5,639.8 L1313.8,637.2 L1315.0,639.9 L1316.3,646.3 L1317.5,643.2 L1318.8,641.5 L1320.0,642.1 L1321.3,642.0 L1322.5,643.5 L1323.8,644.4 L1324.8,645.7 L1325.9,646.5 L1326.9,647.4 L1327.9,648.2 L1329.0,649.6 L1330.0,650.5 L1331.0,651.0 L1332.0,651.4 L1333.0,651.6 L1334.0,651.7 L1335.0,652.3 L1336.3,654.0 L1337.5,655.9 L1338.8,657.8 L1339.8,658.1 L1340.9,658.9 L1341.9,659.5 L1342.9,660.6 L1344.0,661.0 L1345.0,662.1 L1346.1,662.3 L1347.2,662.3 L1348.3,662.9 L1349.4,663.0 L1350.5,663.2 L1351.6,663.5 L1352.7,664.0 L1353.8,664.0 L1354.9,664.2 L1355.9,664.3 L1357.0,664.9 L1358.1,664.9 L1359.2,665.0 L1360.2,665.2 L1361.3,665.4 L1362.3,666.1 L1363.4,666.4 L1364.4,666.8 L1365.4,667.1 L1366.5,667.3 L1367.5,667.7 L1368.6,667.6 L1369.6,667.7 L1370.7,667.7 L1371.8,667.3 L1372.9,667.7 L1373.9,667.4 L1375.0,667.3 L1376.0,668.0 L1377.0,667.8 L1378.0,668.3 L1379.0,668.5 L1380.0,669.1 L1381.0,669.2 L1382.0,669.7 L1383.0,670.0 L1384.0,670.1 L1385.0,670.0 L1386.1,670.6 L1387.1,670.5 L1388.2,671.3 L1389.3,671.4 L1390.4,671.3 L1391.4,671.5 L1392.5,672.0 L1393.5,672.1 L1394.5,672.4 L1395.5,672.2 L1396.5,672.0 L1397.5,672.5 L1398.5,672.2 L1399.5,672.8 L1400.5,672.8 L1401.5,672.9 L1402.5,673.0 L1403.5,673.2 L1404.6,673.8 L1405.7,674.0 L1406.7,674.3 L1407.8,674.6 L1408.8,674.9 L1409.8,674.7 L1410.9,674.8 L1411.9,675.2 L1412.9,674.8 L1414.0,675.1 L1415.0,675.2 L1416.1,675.7 L1417.1,676.3 L1418.2,676.8 L1419.3,677.4 L1420.4,678.0 L1421.4,678.9 L1422.5,679.5 L1423.5,680.2 L1424.5,680.4 L1425.5,681.3 L1426.5,681.9 L1427.5,682.1 L1428.5,683.0 L1429.5,683.4 L1430.5,684.2 L1431.5,684.6 L1432.5,684.9 L1433.5,684.6 L1434.5,684.4 L1435.5,684.1 L1436.5,683.5 L1437.5,683.7 L1438.8,683.0 L1440.0,682.4 L1441.3,682.0 L1442.4,682.2 L1443.6,682.7 L1444.7,683.4 L1445.8,683.7 L1447.0,684.2 L1448.1,684.5 L1449.2,683.5 L1450.4,682.6 L1451.5,681.7 L1452.7,680.9 L1453.8,679.6 L1455.0,678.4 L1456.0,677.5 L1457.0,676.5 L1458.0,675.7 L1459.0,675.0 L1460.0,673.6 L1461.3,669.6 L1462.5,665.6 L1463.8,661.5 L1465.6,657.5 L1466.9,657.1 L1468.1,656.8 L1469.4,656.2 L1471.3,649.9 L1472.3,641.3 L1473.4,632.8 L1474.4,623.8 L1475.4,622.3 L1476.5,621.9 L1477.5,618.9 L1478.8,617.6 L1480.0,617.0 L1481.3,609.7 L1482.5,604.1 L1483.8,597.4 L1485.0,598.8 L1486.3,602.1 L1487.5,604.2 L1488.5,606.6 L1489.6,608.2 L1490.6,610.4 L1491.7,608.4 L1492.7,608.1 L1493.8,608.0 L1494.9,604.5 L1495.9,599.1 L1497.0,595.8 L1498.1,592.9 L1500.0,601.8 L1501.0,603.7 L1502.1,605.4 L1503.1,608.6 L1504.2,617.1 L1505.2,625.6 L1506.3,632.9 L1507.5,635.8 L1508.8,638.1 L1510.0,640.3 L1511.0,639.2 L1512.1,641.1 L1513.2,640.1 L1514.2,640.2 L1515.2,641.5 L1516.3,640.7 L1517.5,642.3 L1518.8,644.6 L1520.0,646.2 L1521.0,647.6 L1522.1,651.9 L1523.1,653.9 L1525.0,649.4 L1526.0,649.7 L1527.0,649.2 L1528.0,650.9 L1529.0,649.0 L1530.0,649.5 L1531.3,651.0 L1532.5,654.2 L1533.8,655.0 L1535.0,654.8 L1536.3,654.8 L1537.5,655.9 L1538.6,655.6 L1539.6,658.0 L1540.7,658.6 L1541.8,659.6 L1542.9,660.7 L1543.9,661.9 L1545.0,663.1 L1546.0,663.2 L1547.0,663.7 L1548.0,663.8 L1549.0,664.0 L1550.0,664.6 L1551.0,665.1 L1552.0,665.9 L1553.0,666.8 L1554.0,667.3 L1555.0,668.0 L1556.0,668.7 L1557.0,669.1 L1558.0,669.4 L1559.0,669.6 L1560.0,670.1 L1561.0,670.9 L1562.0,671.4 L1563.0,672.4 L1564.0,673.3 L1565.0,673.9 L1566.1,673.7 L1567.1,673.4 L1568.2,673.3 L1569.3,672.9 L1570.4,673.0 L1571.4,672.7 L1572.5,672.8 L1573.5,672.7 L1574.6,673.1 L1575.7,673.0 L1576.7,673.4 L1577.8,673.9 L1578.8,673.9 L1579.9,674.0 L1581.0,673.7 L1582.1,673.8 L1583.2,674.0 L1584.2,673.5 L1585.3,673.9 L1586.4,673.3 L1587.5,673.5 L1588.6,673.9 L1589.7,674.1 L1590.8,674.0 L1591.9,674.3 L1593.0,674.6 L1594.1,674.8 L1595.2,675.0 L1596.3,675.0 L1597.5,674.8 L1598.8,675.0 L1600.0,674.8 L1601.3,674.4 L1602.5,674.2 L1603.8,673.3 L1604.9,674.0 L1605.9,674.1 L1607.0,674.7 L1608.1,675.2 L1609.2,675.2 L1610.2,675.7 L1611.3,676.0 L1612.4,675.6 L1613.4,675.0 L1614.5,674.9 L1615.6,674.6 L1616.7,675.3 L1617.7,675.9 L1618.8,677.1 L1620.0,678.8 L1621.3,680.6 L1622.5,682.9 L1623.5,683.2 L1624.5,683.7 L1625.5,684.4 L1626.5,684.6 L1627.5,685.3 L1628.8,684.7 L1630.0,684.8 L1631.3,684.1 L1632.3,684.8 L1633.4,685.5 L1634.4,686.1 L1635.4,686.7 L1636.5,686.9 L1637.5,687.4 L1638.5,688.1 L1639.6,689.0 L1640.7,689.4 L1641.7,690.4 L1642.8,691.3 L1643.8,691.7 L1644.9,691.8 L1645.9,692.1 L1647.0,692.2 L1648.1,691.7 L1649.2,691.7 L1650.2,691.7 L1651.3,691.7 L1652.3,692.6 L1653.4,693.2 L1654.4,693.5 L1655.4,694.2 L1656.5,694.9 L1657.5,695.0 L1658.8,695.0 L1660.0,694.5 L1661.3,693.6 L1662.4,693.8 L1663.5,693.7 L1664.6,693.4 L1665.7,693.7 L1666.7,693.2 L1667.8,693.3 L1668.9,693.1 L1670.0,693.1 L1671.1,693.5 L1672.2,693.5 L1673.4,693.7 L1674.5,694.1 L1675.6,693.8 L1676.7,691.7 L1677.8,689.9 L1678.9,687.5 L1680.0,685.9 L1681.3,684.4 L1682.5,683.4 L1683.8,682.3 L1684.8,683.5 L1685.9,684.6 L1686.9,685.5 L1687.9,686.2 L1689.0,687.4 L1690.0,688.6 L1691.0,687.7 L1692.1,687.6 L1693.2,687.0 L1694.2,686.0 L1695.2,685.5 L1696.3,684.8 L1697.4,683.4 L1698.4,681.3 L1699.5,679.9 L1700.6,677.8 L1701.7,673.3 L1702.7,668.1 L1703.8,663.1 L1704.8,660.7 L1705.9,658.5 L1706.9,656.5 L1707.9,654.7 L1709.0,652.2 L1710.0,650.2 L1711.0,646.8 L1712.1,642.1 L1713.1,638.8 L1714.1,641.1 L1715.1,637.1 L1716.1,636.3 L1717.1,637.1 L1718.1,636.0 L1719.2,633.5 L1720.4,633.6 L1721.5,632.1 L1722.7,632.9 L1723.8,631.2 L1725.0,630.6 L1726.2,631.2 L1727.5,632.7 L1728.5,628.8 L1729.6,623.8 L1730.6,621.5 L1731.7,621.4 L1732.8,618.2 L1733.9,615.8 L1735.0,618.1 L1736.1,614.3 L1737.2,612.6 L1738.3,609.7 L1739.4,610.8 L1740.4,612.2 L1741.5,613.6 L1742.5,615.8 L1743.6,613.4 L1744.7,609.7 L1745.8,606.6 L1746.9,603.8 L1748.1,612.5 L1749.4,608.8 L1750.6,605.6 L1751.9,602.1 L1753.2,610.0 L1754.4,617.0 L1755.6,607.9 L1756.9,601.2 L1758.1,597.1 L1759.2,600.1 L1760.2,608.4 L1761.3,611.9 L1762.5,607.7 L1763.8,604.7 L1764.8,610.0 L1765.8,611.5 L1766.8,612.5 L1767.8,614.3 L1768.8,616.3 L1769.8,611.9 L1770.9,608.7 L1771.9,606.6 L1773.0,609.4 L1774.1,611.1 L1775.3,611.8 L1776.4,612.5 L1777.5,609.7 L1778.6,607.9 L1779.7,609.0 L1780.8,604.2 L1781.9,601.4 L1782.9,600.7 L1784.0,604.0 L1785.0,602.6 L1786.3,606.3 L1787.5,602.8 L1788.8,608.9 L1789.9,604.2 L1790.9,605.4 L1792.0,607.1 L1793.1,608.8 L1794.2,608.1 L1795.4,612.1 L1796.5,614.3 L1797.7,616.0 L1798.8,618.2 L1800.0,620.1 L1801.1,621.9 L1802.2,623.6 L1803.3,625.6 L1804.4,627.7 L1805.5,629.5 L1806.6,631.1 L1807.7,633.1 L1808.8,635.0 L1809.8,636.3 L1810.9,637.7 L1811.9,639.1 L1812.9,640.1 L1814.0,641.6 L1815.0,643.2 L1816.1,643.5 L1817.1,643.9 L1818.2,644.9 L1819.3,645.2 L1820.4,646.1 L1821.4,646.4 L1822.5,646.7 L1823.6,647.3 L1824.7,647.4 L1825.8,648.0 L1826.9,648.3 L1828.0,648.6 L1829.1,648.5 L1830.2,648.8 L1831.3,649.6 L1832.4,649.6 L1833.5,650.1 L1834.6,650.5 L1835.7,651.0 L1836.7,651.7 L1837.8,652.4 L1838.9,652.5 L1840.0,653.0 L1841.0,653.8 L1842.0,654.0 L1843.0,654.8 L1844.0,655.3 L1845.0,656.1 L1846.0,656.1 L1847.0,656.9 L1848.0,657.3 L1849.0,658.2 L1850.0,658.4 L1851.1,658.6 L1852.1,658.3 L1853.2,658.5 L1854.3,658.8 L1855.4,658.3 L1856.4,658.4 L1857.5,658.8 L1858.8,660.1 L1860.0,661.3 L1861.3,662.9 L1862.4,663.5 L1863.4,664.2 L1864.5,665.1 L1865.6,665.6 L1866.7,666.4 L1867.7,666.8 L1868.8,667.4 L1869.8,666.8 L1870.9,666.6 L1871.9,666.0 L1872.9,665.4 L1874.0,665.2 L1875.0,664.7 L1876.2,665.0 L1877.3,664.9 L1878.5,665.1 L1879.6,665.9 L1880.8,665.7 L1881.9,665.9 L1882.9,666.5 L1883.9,667.4 L1884.9,668.2 L1886.0,668.5 L1887.0,669.3 L1888.0,670.0 L1889.0,670.8 L1890.0,671.3 L1891.0,671.4 L1892.0,671.6 L1893.0,672.2 L1894.0,672.0 L1895.0,672.8 L1896.0,672.5 L1897.0,672.9 L1898.0,673.3 L1899.0,673.8 L1900.0,673.9 L1901.1,673.9 L1902.2,674.0 L1903.3,673.9 L1904.4,673.5 L1905.5,674.6 L1906.6,674.8 L1907.7,675.5 L1908.8,676.0 L1909.8,676.5 L1910.8,677.4 L1911.8,677.5 L1912.8,677.8 L1913.8,678.2 L1915.0,674.6 L1916.3,670.4 L1917.5,666.5 L1918.5,665.5 L1919.5,665.1 L1920.5,664.7 L1921.5,664.1 L1922.5,663.6 L1923.6,664.2 L1924.7,665.1 L1925.9,665.5 L1927.0,666.1 L1928.1,666.9 L1929.1,666.8 L1930.2,666.7 L1931.2,666.9 L1932.3,666.9 L1933.4,666.8 L1934.4,666.9 L1935.6,665.6 L1936.7,665.0 L1937.8,663.8 L1939.0,662.9 L1940.2,661.7 L1941.3,661.2 L1942.3,656.6 L1943.4,651.9 L1944.4,647.5 L1945.4,645.5 L1946.4,642.8 L1947.4,640.7 L1948.4,638.7 L1949.4,636.2 L1950.5,634.0 L1951.6,631.8 L1952.8,628.9 L1953.9,626.7 L1955.0,623.6 L1956.1,623.9 L1957.2,622.5 L1958.4,620.7 L1959.5,620.1 L1960.6,615.6 L1961.6,617.1 L1962.6,619.6 L1963.6,619.8 L1964.6,617.8 L1965.6,621.9 L1966.7,620.1 L1967.9,619.7 L1969.0,616.8 L1970.2,616.9 L1971.3,617.4 L1972.5,615.5 L1973.8,612.6 L1975.0,612.2 L1976.0,614.1 L1977.1,614.9 L1978.1,615.6 L1979.2,615.6 L1980.3,611.1 L1981.4,610.9 L1982.5,610.3 L1984.4,602.3 L1985.7,596.8 L1986.9,585.7 L1988.2,591.8 L1989.4,594.1 L1990.6,606.2 L1991.8,605.1 L1993.1,601.3 L1994.4,597.1 L1995.6,593.5 L1996.9,588.8 L1997.9,587.4 L1999.0,589.3 L2000.0,592.1 L2001.3,593.2 L2002.5,598.9 L2003.8,599.4 L2005.6,594.0 L2006.8,597.8 L2008.1,601.1 L2009.4,597.2 L2010.6,593.2 L2011.9,590.6 L2013.1,597.9 L2014.2,598.7 L2015.3,595.3 L2016.4,590.9 L2017.5,591.5 L2018.8,592.3 L2020.0,596.0 L2021.3,599.7 L2022.5,602.7 L2023.8,605.5 L2025.0,606.0 L2026.9,601.2 L2028.0,604.1 L2029.1,606.5 L2030.2,610.8 L2031.3,612.4 L2033.1,611.4 L2034.2,613.1 L2035.4,615.4 L2036.5,617.5 L2037.7,619.0 L2038.8,621.2 L2040.0,622.9 L2041.1,624.4 L2042.1,626.3 L2043.2,627.8 L2044.3,629.7 L2045.4,631.2 L2046.4,632.9 L2047.5,634.7 L2048.6,634.9 L2049.6,635.7 L2050.7,636.4 L2051.7,637.5 L2052.8,638.4 L2053.9,639.1 L2054.9,639.8 L2056.0,640.8 L2057.1,641.2 L2058.1,641.9 L2059.2,642.9 L2060.2,643.3 L2061.3,644.2 L2062.3,644.6 L2063.3,645.1 L2064.3,645.5 L2065.3,646.2 L2066.3,646.4 L2067.3,647.1 L2068.3,647.7 L2069.3,647.8 L2070.3,648.1 L2071.3,648.9 L2072.3,649.1 L2073.4,649.4 L2074.4,649.4 L2075.4,649.6 L2076.5,650.0 L2077.5,650.1 L2078.5,650.8 L2079.6,650.9 L2080.6,651.7 L2081.7,652.1 L2082.7,652.5 L2083.8,652.7 L2084.8,653.5 L2085.8,653.9 L2086.9,654.6 L2087.9,655.0 L2089.0,655.5 L2090.0,655.7 L2091.0,656.2 L2092.1,656.9 L2093.1,657.4 L2094.1,658.0 L2095.1,658.3 L2096.2,658.4 L2097.2,658.9 L2098.2,659.3 L2099.2,659.9 L2100.3,660.1 L2101.3,660.9 L2102.3,661.3 L2103.3,661.9 L2104.3,662.6 L2105.3,663.2 L2106.3,664.3 L2107.3,664.0 L2108.4,664.5 L2109.4,664.6 L2110.5,665.2 L2111.5,665.2 L2112.6,665.4 L2113.6,665.9 L2114.6,666.3 L2115.7,666.6 L2116.7,666.7 L2117.8,666.9 L2118.8,667.2 L2119.8,667.8 L2120.9,667.7 L2121.9,667.8 L2123.0,668.6 L2124.0,668.7 L2125.1,668.7 L2126.1,669.0 L2127.1,669.7 L2128.2,669.9 L2129.2,669.8 L2130.3,670.4 L2131.3,670.4 L2132.3,671.0 L2133.3,671.5 L2134.3,671.7 L2135.3,672.6 L2136.3,672.7 L2137.3,673.0 L2138.3,673.8 L2139.3,673.9 L2140.3,674.3 L2141.3,675.1 L2142.4,675.9 L2143.4,677.0 L2144.5,677.8 L2145.6,678.3 L2146.7,677.8 L2147.8,677.8 L2148.9,677.3 L2150.0,676.8 L2151.0,677.7 L2152.1,677.8 L2153.1,678.6 L2154.4,674.9 L2155.6,672.1 L2156.9,668.8 L2158.1,668.2 L2159.2,667.6 L2160.4,667.4 L2161.5,667.1 L2162.7,666.6 L2163.8,665.7 L2164.9,666.1 L2166.0,666.0 L2167.1,666.4 L2168.2,666.7 L2169.2,666.8 L2170.3,666.5 L2171.4,666.8 L2172.5,666.8 L2173.6,666.1 L2174.6,665.8 L2175.7,665.2 L2176.7,664.3 L2177.8,663.7 L2178.8,663.2 L2179.9,660.0 L2180.9,656.5 L2182.0,653.0 L2183.1,649.8 L2184.2,647.9 L2185.4,646.5 L2186.6,644.4 L2187.7,642.6 L2188.8,640.6 L2190.0,638.7 L2191.1,636.6 L2192.2,635.1 L2193.4,632.9 L2194.5,630.6 L2195.6,628.9 L2196.7,627.0 L2197.7,625.1 L2198.8,623.3 L2199.8,621.8 L2200.9,620.6 L2201.9,619.3 L2202.9,617.6 L2204.0,616.4 L2205.0,614.4 L2206.1,613.2 L2207.2,611.5 L2208.4,611.3 L2209.5,608.6 L2210.6,607.1 L2211.9,609.0 L2213.1,608.5 L2214.4,607.7 L2215.7,605.9 L2216.9,601.4 L2218.2,606.6 L2219.4,608.9 L2220.6,606.1 L2221.9,602.0 L2223.1,601.9 L2224.4,602.7 L2225.6,600.2 L2226.9,600.8 L2228.2,604.6 L2229.4,609.7 L2230.7,603.8 L2231.9,596.7 L2232.9,598.4 L2234.0,604.3 L2235.0,611.7 L2236.2,603.5 L2237.5,600.5 L2239.4,607.5 L2240.7,602.4 L2241.9,595.6 L2243.8,597.2 L2245.6,612.8 L2246.9,608.0 L2248.1,605.8 L2249.4,598.5 L2250.7,600.9 L2251.9,601.3 L2253.1,600.2 L2254.2,600.5 L2255.4,601.1 L2256.5,601.9 L2257.7,606.0 L2258.8,606.1 L2259.8,603.9 L2260.9,606.2 L2261.9,607.3 L2262.9,606.5 L2264.0,605.6 L2265.0,607.8 L2266.1,609.0 L2267.2,613.3 L2268.3,612.2 L2269.4,616.3 L2270.4,614.8 L2271.5,612.2 L2272.5,610.4 L2273.8,615.5 L2275.0,619.8 L2276.0,621.8 L2277.0,623.3 L2278.0,625.0 L2279.0,627.0 L2280.0,628.6 L2281.1,632.0 L2282.1,634.7 L2283.2,637.8 L2284.2,640.7 L2285.2,643.5 L2286.3,646.4 L2287.4,647.6 L2288.5,649.1 L2289.6,650.4 L2290.7,651.4 L2291.7,652.9 L2292.8,654.2 L2293.9,655.6 L2295.0,657.0 L2296.1,657.8 L2297.1,658.5 L2298.2,659.4 L2299.2,660.2 L2300.2,660.5 L2301.3,661.3 L2302.5,661.2 L2303.8,661.3 L2305.0,661.8 L2306.1,662.1 L2307.1,663.0 L2308.2,663.7 L2309.2,664.5 L2310.2,665.1 L2311.3,666.2 L2312.3,666.2 L2313.4,666.8 L2314.4,667.1 L2315.4,666.9 L2316.5,667.5 L2317.5,667.6 L2318.6,669.3 L2319.6,670.0 L2320.7,671.4 L2321.8,672.9 L2322.9,674.1 L2323.9,675.4 L2325.0,676.4 L2326.2,675.8 L2327.5,674.8 L2328.5,675.4 L2329.5,675.6 L2330.5,676.2 L2331.5,676.3 L2332.5,676.7 L2333.6,677.6 L2334.6,678.6 L2335.7,679.4 L2336.7,679.9 L2337.8,681.4 L2338.8,682.1 L2339.9,682.1 L2340.9,682.2 L2342.0,682.9 L2343.1,683.3 L2344.2,683.1 L2345.2,683.7 L2346.3,684.0 L2347.3,683.7 L2348.4,683.0 L2349.4,682.6 L2350.4,682.3 L2351.5,682.1 L2352.5,682.1 L2353.5,682.3 L2354.6,682.2 L2355.6,682.1 L2356.7,683.1 L2357.9,684.0 L2359.0,685.1 L2360.2,686.1 L2361.3,687.1 L2362.4,687.3 L2363.5,687.7 L2364.6,688.2 L2365.7,688.5 L2366.7,689.0 L2367.8,689.6 L2368.9,690.0 L2370.0,690.2 L2371.1,690.6 L2372.2,690.6 L2373.2,690.8 L2374.3,691.3 L2375.4,691.5 L2376.5,691.6" fill="none" stroke="#d84b89" stroke-width="1.8" stroke-linejoin="round"/>
<path d="M605.3,758 V775 M599,769.5 L605.3,777.5 L611.6,769.5" fill="none" stroke="#1f7a63" stroke-width="3.2" />
<path d="M599,769 L605.3,777.8 L611.6,769 Z" fill="#1f7a63" />
<rect x="616.3" y="756" width="159.2" height="29.6" rx="7" fill="#fff" stroke="#dcdee1" stroke-width="1.2" />
<text x="624.2" y="777.1" font-size="17" fill="#222" font-weight="400" textLength="143.6" lengthAdjust="spacingAndGlyphs" >1/22/2026 10:30 AM</text>
<text x="785.0" y="777.1" font-size="17" fill="#1f7a63" font-weight="400" textLength="27.0" lengthAdjust="spacingAndGlyphs" >EST</text>
<path d="M1287.3,770.9 L1298,761 V780.8 Z M1298,770.9 L1308.8,761 V780.8 Z" fill="#1f7a63" />
<path d="M1343.3,770.9 L1354.6,761 V780.8 Z" fill="#1f7a63" />
<text x="1405.6" y="777.1" font-size="17" fill="#1f7a63" font-weight="400" textLength="51.6" lengthAdjust="spacingAndGlyphs" >1 week</text>
<path d="M1516.5,770.9 L1506.4,761 V780.8 Z" fill="#1f7a63" />
<path d="M1549.5,761 L1559,770.9 L1549.5,780.8 Z M1558.7,761 L1568.2,770.9 L1558.7,780.8 Z" fill="#1f7a63" />
<path d="M1601.1,760.1 L1610,769 L1601.1,777.9 Z" fill="#1f7a63" />
<rect x="1609.9" y="760.1" width="2.9" height="17.8" rx="0" fill="#1f7a63" />
<path d="M1644.2,768.6 A7.2,7.2 0 0 1 1655.6,765.4 M1656.6,771.4 A7.2,7.2 0 0 1 1645.2,774.6" fill="none" stroke="#1f7a63" stroke-width="2.6" />
<path d="M1658.7,762 V769.2 H1651.5 Z M1642.1,777.8 V770.6 H1649.3 Z" fill="#1f7a63" />
<rect x="1690.6" y="761.6" width="7.6" height="7" rx="1.2" fill="none" stroke="#1f7a63" stroke-width="1.5" />
<rect x="1690.6" y="761.2" width="7.6" height="2.6" rx="1" fill="#1f7a63" />
<path d="M1692.6,759.7 V762 M1696.2,759.7 V762" fill="none" stroke="#1f7a63" stroke-width="1.3" />
<rect x="1694.6" y="765.6" width="11.3" height="12.1" rx="1.6" fill="#fff" stroke="#1f7a63" stroke-width="1.8" />
<rect x="1694.6" y="765.2" width="11.3" height="3.6" rx="1.2" fill="#1f7a63" />
<path d="M1697.6,763.3 V766 M1702.9,763.3 V766" fill="none" stroke="#1f7a63" stroke-width="1.5" />
<path d="M1688.8,766.8 C1685.6,768.6 1685.9,772.6 1689.6,773.1 H1691.8" fill="none" stroke="#1f7a63" stroke-width="1.5" />
<path d="M1691.4,770.7 L1694.3,773.1 L1691.4,775.5 Z" fill="#1f7a63" />
<rect x="2181.3" y="756.7" width="159.7" height="28.9" rx="7" fill="#fff" stroke="#dcdee1" stroke-width="1.2" />
<text x="2189.5" y="777.1" font-size="17" fill="#222" font-weight="400" textLength="144.0" lengthAdjust="spacingAndGlyphs" >1/29/2026 10:30 AM</text>
<text x="2349.3" y="777.1" font-size="17" fill="#1f7a63" font-weight="400" textLength="27.4" lengthAdjust="spacingAndGlyphs" >EST</text>
<rect x="595" y="789" width="1805" height="1.4" rx="0" fill="#e6e7e9" />
<rect x="631" y="804" width="1708" height="3" rx="0" fill="#1f7a63" />
<rect x="631" y="822" width="1708" height="3" rx="0" fill="#1f7a63" />
<rect x="625" y="801.2" width="7" height="26.6" rx="0" fill="#1f7a63" />
<rect x="627.6" y="804" width="1.6" height="21" rx="0" fill="#fff" />
<rect x="2338" y="801.2" width="6.6" height="26.6" rx="0" fill="#1f7a63" />
<rect x="2340.5" y="804" width="1.6" height="21" rx="0" fill="#fff" />
<rect x="2355.6" y="806" width="8" height="21" rx="1.5" fill="#1f7a63" />
<rect x="2365" y="806" width="8" height="21" rx="1.5" fill="#1f7a63" />
<path d="M2355.6,817 L2359.5,809 L2363,822 L2366.5,815 L2369.5,809 L2372.9,822" fill="none" stroke="#fff" stroke-width="1.6" />
<clipPath id="navclip"><rect x="595" y="826" width="1805" height="21.3"/></clipPath>
<g clip-path="url(#navclip)">
<line x1="679" y1="825" x2="679" y2="829" stroke="#c5d0db" stroke-width="1.5" />
<text x="648.1" y="848.2" font-size="16.5" fill="#8a96a4" font-weight="400" textLength="61.7" lengthAdjust="spacingAndGlyphs" >12:00 pm</text>
<line x1="796" y1="825" x2="796" y2="829" stroke="#c5d0db" stroke-width="1.5" />
<text x="774.0" y="848.2" font-size="16.5" fill="#8a96a4" font-weight="400" textLength="43.9" lengthAdjust="spacingAndGlyphs" >Jan 23</text>
<line x1="913" y1="825" x2="913" y2="829" stroke="#c5d0db" stroke-width="1.5" />
<text x="882.1" y="848.2" font-size="16.5" fill="#8a96a4" font-weight="400" textLength="61.7" lengthAdjust="spacingAndGlyphs" >12:00 pm</text>
<line x1="1031" y1="825" x2="1031" y2="829" stroke="#c5d0db" stroke-width="1.5" />
<text x="1009.0" y="848.2" font-size="16.5" fill="#8a96a4" font-weight="400" textLength="43.9" lengthAdjust="spacingAndGlyphs" >Jan 24</text>
<line x1="1148" y1="825" x2="1148" y2="829" stroke="#c5d0db" stroke-width="1.5" />
<text x="1117.2" y="848.2" font-size="16.5" fill="#8a96a4" font-weight="400" textLength="61.7" lengthAdjust="spacingAndGlyphs" >12:00 pm</text>
<line x1="1265" y1="825" x2="1265" y2="829" stroke="#c5d0db" stroke-width="1.5" />
<text x="1243.0" y="848.2" font-size="16.5" fill="#8a96a4" font-weight="400" textLength="43.9" lengthAdjust="spacingAndGlyphs" >Jan 25</text>
<line x1="1383" y1="825" x2="1383" y2="829" stroke="#c5d0db" stroke-width="1.5" />
<text x="1352.2" y="848.2" font-size="16.5" fill="#8a96a4" font-weight="400" textLength="61.7" lengthAdjust="spacingAndGlyphs" >12:00 pm</text>
<line x1="1500" y1="825" x2="1500" y2="829" stroke="#c5d0db" stroke-width="1.5" />
<text x="1478.0" y="848.2" font-size="16.5" fill="#8a96a4" font-weight="400" textLength="43.9" lengthAdjust="spacingAndGlyphs" >Jan 26</text>
<line x1="1618" y1="825" x2="1618" y2="829" stroke="#c5d0db" stroke-width="1.5" />
<text x="1587.2" y="848.2" font-size="16.5" fill="#8a96a4" font-weight="400" textLength="61.7" lengthAdjust="spacingAndGlyphs" >12:00 pm</text>
<line x1="1735" y1="825" x2="1735" y2="829" stroke="#c5d0db" stroke-width="1.5" />
<text x="1713.0" y="848.2" font-size="16.5" fill="#8a96a4" font-weight="400" textLength="43.9" lengthAdjust="spacingAndGlyphs" >Jan 27</text>
<line x1="1853" y1="825" x2="1853" y2="829" stroke="#c5d0db" stroke-width="1.5" />
<text x="1822.2" y="848.2" font-size="16.5" fill="#8a96a4" font-weight="400" textLength="61.7" lengthAdjust="spacingAndGlyphs" >12:00 pm</text>
<line x1="1970" y1="825" x2="1970" y2="829" stroke="#c5d0db" stroke-width="1.5" />
<text x="1948.0" y="848.2" font-size="16.5" fill="#8a96a4" font-weight="400" textLength="43.9" lengthAdjust="spacingAndGlyphs" >Jan 28</text>
<line x1="2088" y1="825" x2="2088" y2="829" stroke="#c5d0db" stroke-width="1.5" />
<text x="2057.2" y="848.2" font-size="16.5" fill="#8a96a4" font-weight="400" textLength="61.7" lengthAdjust="spacingAndGlyphs" >12:00 pm</text>
<line x1="2205" y1="825" x2="2205" y2="829" stroke="#c5d0db" stroke-width="1.5" />
<text x="2183.1" y="848.2" font-size="16.5" fill="#8a96a4" font-weight="400" textLength="43.9" lengthAdjust="spacingAndGlyphs" >Jan 29</text>
<text x="2267.5" y="848.2" font-size="16.5" fill="#8a96a4" font-weight="400" textLength="53.0" lengthAdjust="spacingAndGlyphs" >12:00…</text>
</g>
<path d="M611.2,879.5 V864 M604.5,868.5 L611.2,860 L618,868.5 Z" fill="#1f7a63" stroke="#1f7a63" stroke-width="3" />
<rect x="628.3" y="855.2" width="89" height="29.3" rx="7" fill="#fff" stroke="#dcdee1" stroke-width="1.2" />
<text x="635.7" y="876.2" font-size="17" fill="#222" font-weight="400" textLength="74.5" lengthAdjust="spacingAndGlyphs" >1/22/2026</text>
<text x="1475.0" y="876.2" font-size="17" fill="#1f7a63" font-weight="400" textLength="52.0" lengthAdjust="spacingAndGlyphs" >1 week</text>
<rect x="2283" y="855.7" width="89.5" height="28.5" rx="7" fill="#fff" stroke="#dcdee1" stroke-width="1.2" />
<text x="2290.5" y="876.2" font-size="17" fill="#222" font-weight="400" textLength="75.0" lengthAdjust="spacingAndGlyphs" >1/29/2026</text>
<rect x="595" y="889.2" width="1805" height="5.5" rx="0" fill="#e4e5e8" />
<rect x="595" y="894.5" width="1176" height="51" rx="0" fill="#f1f2f4" />
<rect x="595" y="944.8" width="1176" height="1.3" rx="0" fill="#e2e3e6" />
<path d="M603.8,945 V905 Q603.8,897 611.8,897 H725 Q733,897 733,905 V945 Z" fill="#fff" />
<rect x="603.8" y="942.2" width="129.2" height="2.7" rx="0" fill="#1f7a63" />
<path d="M617,908 V928 H639.5" fill="none" stroke="#1f7a63" stroke-width="2.3" />
<path d="M621,924.5 V917.5 L625.5,913 L630,919 L634.5,914.5 L638.5,918 V924.5 Z" fill="none" stroke="#1f7a63" stroke-width="2.0" stroke-linejoin="round"/>
<text x="648.4" y="927.3" font-size="24" fill="#2b2b2b" font-weight="400" textLength="71.6" lengthAdjust="spacingAndGlyphs" >Details</text>
<path d="M1748.5,907.8 H1758 V917.0 M1757.5,908.3 L1749.5,916.3 M1745.5,920.0 L1737.5,927.7 M1736.8,918.0 V927.7 H1746.2" fill="none" stroke="#1f7a63" stroke-width="2.6" />
<rect x="595" y="946" width="1176" height="38.5" rx="0" fill="#f7f7f7" />
<rect x="1622.8" y="950.8" width="138.9" height="29.4" rx="7" fill="#fff" stroke="#dcdee1" stroke-width="1.2" />
<path d="M1649.13,960.86 L1649.30,962.26 L1647.75,963.28 L1647.34,964.24 L1647.67,966.06 L1646.54,966.91 L1644.89,966.08 L1643.85,966.20 L1642.44,967.40 L1641.15,966.84 L1641.04,964.99 L1640.41,964.16 L1638.67,963.54 L1638.50,962.14 L1640.05,961.12 L1640.46,960.16 L1640.13,958.34 L1641.26,957.49 L1642.91,958.32 L1643.95,958.20 L1645.36,957.00 L1646.65,957.56 L1646.76,959.41 L1647.39,960.24 Z" fill="none" stroke="#222" stroke-width="1.35" stroke-linejoin="round"/>
<circle cx="1643.9" cy="962.2" r="1.2" fill="#222"/>
<path d="M1659.75,970.05 L1659.14,971.38 L1657.25,971.48 L1656.36,972.11 L1655.64,973.86 L1654.19,974.00 L1653.16,972.41 L1652.16,971.95 L1650.29,972.21 L1649.45,971.01 L1650.30,969.33 L1650.20,968.24 L1649.05,966.75 L1649.66,965.42 L1651.55,965.32 L1652.44,964.69 L1653.16,962.94 L1654.61,962.80 L1655.64,964.39 L1656.64,964.85 L1658.51,964.59 L1659.35,965.79 L1658.50,967.47 L1658.60,968.56 Z" fill="none" stroke="#222" stroke-width="1.35" stroke-linejoin="round"/>
<circle cx="1654.4" cy="968.4" r="1.2" fill="#222"/>
<text x="1674.7" y="972.6" font-size="16.5" fill="#333" font-weight="400" textLength="72.3" lengthAdjust="spacingAndGlyphs" >Customize</text>
<rect x="595" y="984.5" width="1176" height="39.3" rx="0" fill="#fff" />
<path d="M690.1,992.5 C683.6,992.5 678.6,996 676.1,1001 L671.6,1001.5 L670.6,1004 L675.1,1004.5 L678.1,1007.5 L678.6,1012 L681.1,1011 L681.6,1006.5 C686.6,1004 690.1,999 690.1,992.5 Z" fill="#1f7a63" />
<circle cx="683.9" cy="998.7" r="2" fill="#fff"/>
<path d="M674.6,1007.5 L671.6,1011.5 M673.6,1005.5 L671.1,1008" fill="none" stroke="#1f7a63" stroke-width="1.5" />
<path d="M708,995.9 L721.6,1009.5 M721.6,995.9 L708,1009.5" fill="none" stroke="#1f7a63" stroke-width="1.9" />
<rect x="736.1" y="994.7" width="18.900000000000002" height="18.900000000000002" rx="4" fill="#fff" stroke="#333" stroke-width="1.4" />
<path d="M740.4,1004.5 L744.1,1008.3 L751.1999999999999,1000.5" fill="none" stroke="#111" stroke-width="2.4" stroke-linecap="round" stroke-linejoin="round"/>
<path d="M811.3,1001.3 L817.2,995.3 L823.1,1001.3 Z M811.3,1004.3 L817.2,1010.3 L823.1,1004.3 Z" fill="none" stroke="#555" stroke-width="1.6" stroke-linejoin="round"/>
<text x="838.3" y="1010.5" font-size="19.5" fill="#2b2b2b" font-weight="700" textLength="48.9" lengthAdjust="spacingAndGlyphs" >Name</text>
<path d="M895.3,1001.3 L901.2,995.3 L907.1,1001.3 Z M895.3,1004.3 L901.2,1010.3 L907.1,1004.3 Z" fill="none" stroke="#555" stroke-width="1.6" stroke-linejoin="round"/>
<text x="1076.0" y="1010.5" font-size="19.5" fill="#2b2b2b" font-weight="700" textLength="45.5" lengthAdjust="spacingAndGlyphs" >Asset</text>
<path d="M1129.7,1001.3 L1135.6000000000001,995.3 L1141.5,1001.3 Z M1129.7,1004.3 L1135.6000000000001,1010.3 L1141.5,1004.3 Z" fill="none" stroke="#555" stroke-width="1.6" stroke-linejoin="round"/>
<text x="1151.6" y="1010.5" font-size="19.5" fill="#2b2b2b" font-weight="700" textLength="174.7" lengthAdjust="spacingAndGlyphs" >Source Scaling Table</text>
<path d="M1334.6,1001.3 L1340.5,995.3 L1346.3999999999999,1001.3 Z M1334.6,1004.3 L1340.5,1010.3 L1346.3999999999999,1004.3 Z" fill="none" stroke="#555" stroke-width="1.6" stroke-linejoin="round"/>
<text x="1576.0" y="1010.5" font-size="19.5" fill="#1f7a63" font-weight="700" textLength="41.3" lengthAdjust="spacingAndGlyphs" >Lane</text>
<path d="M1624.5,1001 L1631,994.5 L1637.5,1001 Z" fill="none" stroke="#1f7a63" stroke-width="1.8" stroke-linejoin="round"/>
<defs><pattern id="hatch" width="2.4" height="2.4" patternUnits="userSpaceOnUse" patternTransform="rotate(-45)"><rect width="2.4" height="2.4" fill="#e6e6e6"/><rect width="1.1" height="2.4" fill="#8d8d8d"/></pattern></defs>
<rect x="1752.6" y="996.2" width="10.7" height="16.8" rx="0" fill="#d6d8dc" />
<rect x="1752.6" y="996.2" width="10.7" height="16.8" rx="0" fill="url(#hatch)" opacity="0.35"/>
<rect x="1742.6" y="996.2" width="20.7" height="16.8" rx="1.5" fill="none" stroke="#666" stroke-width="1.05" />
<line x1="1752.6" y1="996.2" x2="1752.6" y2="1013.0" stroke="#666" stroke-width="1.0" />
<line x1="1742.6" y1="1002.0" x2="1752.6" y2="1002.0" stroke="#666" stroke-width="0.9" />
<line x1="1742.6" y1="1007.8000000000001" x2="1752.6" y2="1007.8000000000001" stroke="#666" stroke-width="0.9" />
<circle cx="1761.2" cy="1010.9" r="4.6" fill="#222" stroke="#fff" stroke-width="0.9"/>
<path d="M1761.2,1008.1 V1013.7 M1758.4,1010.9 H1764" fill="none" stroke="#fff" stroke-width="1.4" />
<rect x="595" y="1023.8" width="1176" height="35.13" rx="0" fill="#eef6f3" />
<path d="M602,1049.8 L603,1045.3 L614,1034.3 L618,1038.3 L607,1049.3 Z" fill="#1f7a63" />
<path d="M604.5,1046.3 L613,1037.8" fill="none" stroke="#fff" stroke-width="1" />
<circle cx="642.2" cy="1033.3" r="2.4" fill="#1f7a63"/>
<circle cx="642.2" cy="1040.9" r="2.4" fill="#1f7a63"/>
<circle cx="642.2" cy="1048.5" r="2.4" fill="#1f7a63"/>
<path d="M690.1,1030.8 C683.6,1030.8 678.6,1034.3 676.1,1039.3 L671.6,1039.8 L670.6,1042.3 L675.1,1042.8 L678.1,1045.8 L678.6,1050.3 L681.1,1049.3 L681.6,1044.8 C686.6,1042.3 690.1,1037.3 690.1,1030.8 Z" fill="#1f7a63" />
<circle cx="683.9" cy="1037.0" r="2" fill="#fff"/>
<path d="M674.6,1045.8 L671.6,1049.8 M673.6,1043.8 L671.1,1046.3" fill="none" stroke="#1f7a63" stroke-width="1.5" />
<path d="M708,1035.8 L721.6,1049.3999999999999 M721.6,1035.8 L708,1049.3999999999999" fill="none" stroke="#1f7a63" stroke-width="1.9" />
<rect x="736.1" y="1031.8" width="18.900000000000002" height="18.900000000000002" rx="4" fill="#fff" stroke="#333" stroke-width="1.4" />
<path d="M740.4,1041.6 L744.1,1045.3999999999999 L751.1999999999999,1037.6" fill="none" stroke="#111" stroke-width="2.4" stroke-linecap="round" stroke-linejoin="round"/>
<rect x="771.5" y="1030.3999999999999" width="7.8" height="19.6" rx="1" fill="#9b2c8c" />
<rect x="780.5" y="1030.3999999999999" width="7.8" height="19.6" rx="1" fill="#9b2c8c" />
<path d="M771.5,1040.8 L775,1033.3 L778.5,1046.3 L782,1039.3 L785,1033.3 L788.3,1046.3" fill="none" stroke="#fff" stroke-width="1.4" />
<text x="838.3" y="1048.4" font-size="19.5" fill="#2b2b2b" font-weight="700" textLength="178.4" lengthAdjust="spacingAndGlyphs" >Compressor Running</text>
<text x="1151.6" y="1048.4" font-size="19.5" fill="#1f7a63" font-weight="400" textLength="167.4" lengthAdjust="spacingAndGlyphs" >Defining your Search</text>
<rect x="1151.6" y="1050.3" width="167.4" height="1.3" rx="0" fill="#1f7a63" />
<rect x="1325.3" y="1033.3999999999999" width="1.3" height="19.2" rx="0" fill="#333" />
<text x="1331.8" y="1048.4" font-size="19.5" fill="#1f7a63" font-weight="400" textLength="51.2" lengthAdjust="spacingAndGlyphs" >Area A</text>
<rect x="1331.8" y="1050.3" width="51.2" height="1.3" rx="0" fill="#1f7a63" />
<rect x="1388.8" y="1033.3999999999999" width="1.3" height="19.2" rx="0" fill="#333" />
<text x="1396.1" y="1048.4" font-size="19.5" fill="#333" font-weight="400" textLength="170.0" lengthAdjust="spacingAndGlyphs" >Compressor Running</text>
<text x="1627.6" y="1048.4" font-size="19.5" fill="#333" font-weight="400" textLength="9.0" lengthAdjust="spacingAndGlyphs" >1</text>
<rect x="595" y="1058.93" width="1176" height="35.13" rx="0" fill="#eef6f3" />
<path d="M602,1084.93 L603,1080.43 L614,1069.43 L618,1073.43 L607,1084.43 Z" fill="#1f7a63" />
<path d="M604.5,1081.43 L613,1072.93" fill="none" stroke="#fff" stroke-width="1" />
<circle cx="642.2" cy="1068.4" r="2.4" fill="#1f7a63"/>
<circle cx="642.2" cy="1076.0" r="2.4" fill="#1f7a63"/>
<circle cx="642.2" cy="1083.6" r="2.4" fill="#1f7a63"/>
<path d="M690.1,1065.93 C683.6,1065.93 678.6,1069.43 676.1,1074.43 L671.6,1074.93 L670.6,1077.43 L675.1,1077.93 L678.1,1080.93 L678.6,1085.43 L681.1,1084.43 L681.6,1079.93 C686.6,1077.43 690.1,1072.43 690.1,1065.93 Z" fill="#1f7a63" />
<circle cx="683.9" cy="1072.13" r="2" fill="#fff"/>
<path d="M674.6,1080.93 L671.6,1084.93 M673.6,1078.93 L671.1,1081.43" fill="none" stroke="#1f7a63" stroke-width="1.5" />
<path d="M708,1070.93 L721.6,1084.53 M721.6,1070.93 L708,1084.53" fill="none" stroke="#1f7a63" stroke-width="1.9" />
<rect x="736.1" y="1066.93" width="18.900000000000002" height="18.900000000000002" rx="4" fill="#fff" stroke="#333" stroke-width="1.4" />
<path d="M740.4,1076.73 L744.1,1080.53 L751.1999999999999,1072.73" fill="none" stroke="#111" stroke-width="2.4" stroke-linecap="round" stroke-linejoin="round"/>
<rect x="771.5" y="1065.53" width="7.8" height="19.6" rx="1" fill="#9b6340" />
<rect x="780.5" y="1065.53" width="7.8" height="19.6" rx="1" fill="#9b6340" />
<path d="M771.5,1075.93 L775,1068.43 L778.5,1081.43 L782,1074.43 L785,1068.43 L788.3,1081.43" fill="none" stroke="#fff" stroke-width="1.4" />
<text x="838.3" y="1083.5" font-size="19.5" fill="#2b2b2b" font-weight="700" textLength="155.2" lengthAdjust="spacingAndGlyphs" >Temperature Alert</text>
<text x="1151.6" y="1083.5" font-size="19.5" fill="#1f7a63" font-weight="400" textLength="167.4" lengthAdjust="spacingAndGlyphs" >Defining your Search</text>
<rect x="1151.6" y="1085.43" width="167.4" height="1.3" rx="0" fill="#1f7a63" />
<rect x="1325.3" y="1068.53" width="1.3" height="19.2" rx="0" fill="#333" />
<text x="1331.8" y="1083.5" font-size="19.5" fill="#1f7a63" font-weight="400" textLength="51.2" lengthAdjust="spacingAndGlyphs" >Area A</text>
<rect x="1331.8" y="1085.43" width="51.2" height="1.3" rx="0" fill="#1f7a63" />
<rect x="1388.8" y="1068.53" width="1.3" height="19.2" rx="0" fill="#333" />
<text x="1396.1" y="1083.5" font-size="19.5" fill="#333" font-weight="400" textLength="146.2" lengthAdjust="spacingAndGlyphs" >Temperature Alert</text>
<text x="1627.6" y="1083.5" font-size="19.5" fill="#333" font-weight="400" textLength="9.0" lengthAdjust="spacingAndGlyphs" >2</text>
<rect x="595" y="1094.06" width="1176" height="35.13" rx="0" fill="#eef6f3" />
<circle cx="642.2" cy="1103.6" r="2.4" fill="#1f7a63"/>
<circle cx="642.2" cy="1111.2" r="2.4" fill="#1f7a63"/>
<circle cx="642.2" cy="1118.8" r="2.4" fill="#1f7a63"/>
<path d="M690.1,1101.06 C683.6,1101.06 678.6,1104.56 676.1,1109.56 L671.6,1110.06 L670.6,1112.56 L675.1,1113.06 L678.1,1116.06 L678.6,1120.56 L681.1,1119.56 L681.6,1115.06 C686.6,1112.56 690.1,1107.56 690.1,1101.06 Z" fill="#1f7a63" />
<circle cx="683.9" cy="1107.26" r="2" fill="#fff"/>
<path d="M674.6,1116.06 L671.6,1120.06 M673.6,1114.06 L671.1,1116.56" fill="none" stroke="#1f7a63" stroke-width="1.5" />
<path d="M708,1106.06 L721.6,1119.6599999999999 M721.6,1106.06 L708,1119.6599999999999" fill="none" stroke="#1f7a63" stroke-width="1.9" />
<rect x="736.1" y="1102.06" width="18.900000000000002" height="18.900000000000002" rx="4" fill="#fff" stroke="#333" stroke-width="1.4" />
<path d="M740.4,1111.86 L744.1,1115.6599999999999 L751.1999999999999,1107.86" fill="none" stroke="#111" stroke-width="2.4" stroke-linecap="round" stroke-linejoin="round"/>
<path d="M770.3,1114.1 L774.0,1102.5 L777.4,1115.8 L781.1,1106.7 L784.5,1119.7 L788.1,1113.1 L789.3,1116.5" fill="none" stroke="#3a509f" stroke-width="2.5" stroke-linejoin="round" stroke-linecap="round"/>
<text x="804.0" y="1118.7" font-size="19.5" fill="#444" font-weight="400" textLength="24.0" lengthAdjust="spacingAndGlyphs" >kW</text>
<text x="838.3" y="1118.7" font-size="19.5" fill="#2b2b2b" font-weight="700" textLength="160.7" lengthAdjust="spacingAndGlyphs" >Compressor Power</text>
<path d="M1007.2,1106.56 C1007.2,1102.56 1011.7,1100.56 1017.2,1100.56 C1022.7,1100.56 1026.7,1102.56 1026.7,1106.06 C1026.7,1109.56 1022.7,1111.56 1017.2,1111.56 C1015.7,1111.56 1014.2,1111.36 1012.7,1110.86 L1008.0,1113.56 L1009.7,1109.56 C1008.0,1108.56 1007.2,1107.56 1007.2,1106.56 Z" fill="none" stroke="#1f7a63" stroke-width="1.6" stroke-linejoin="round"/>
<circle cx="1012.9" cy="1106.2" r="1.1" fill="#1f7a63"/>
<circle cx="1017.2" cy="1106.2" r="1.1" fill="#1f7a63"/>
<circle cx="1021.5" cy="1106.2" r="1.1" fill="#1f7a63"/>
<text x="1151.6" y="1118.7" font-size="19.5" fill="#1f7a63" font-weight="400" textLength="167.4" lengthAdjust="spacingAndGlyphs" >Defining your Search</text>
<rect x="1151.6" y="1120.56" width="167.4" height="1.3" rx="0" fill="#1f7a63" />
<rect x="1325.3" y="1103.6599999999999" width="1.3" height="19.2" rx="0" fill="#333" />
<text x="1331.8" y="1118.7" font-size="19.5" fill="#1f7a63" font-weight="400" textLength="51.2" lengthAdjust="spacingAndGlyphs" >Area A</text>
<rect x="1331.8" y="1120.56" width="51.2" height="1.3" rx="0" fill="#1f7a63" />
<rect x="1388.8" y="1103.6599999999999" width="1.3" height="19.2" rx="0" fill="#333" />
<text x="1396.1" y="1118.7" font-size="19.5" fill="#333" font-weight="400" textLength="153.3" lengthAdjust="spacingAndGlyphs" >Compressor Power</text>
<text x="1627.6" y="1118.7" font-size="19.5" fill="#333" font-weight="400" textLength="9.0" lengthAdjust="spacingAndGlyphs" >3</text>
<rect x="595" y="1129.19" width="1176" height="35.13" rx="0" fill="#ffffff" />
<circle cx="642.2" cy="1138.7" r="2.4" fill="#1f7a63"/>
<circle cx="642.2" cy="1146.3" r="2.4" fill="#1f7a63"/>
<circle cx="642.2" cy="1153.9" r="2.4" fill="#1f7a63"/>
<path d="M690.1,1136.19 C683.6,1136.19 678.6,1139.69 676.1,1144.69 L671.6,1145.19 L670.6,1147.69 L675.1,1148.19 L678.1,1151.19 L678.6,1155.69 L681.1,1154.69 L681.6,1150.19 C686.6,1147.69 690.1,1142.69 690.1,1136.19 Z" fill="#1f7a63" />
<circle cx="683.9" cy="1142.39" r="2" fill="#fff"/>
<path d="M674.6,1151.19 L671.6,1155.19 M673.6,1149.19 L671.1,1151.69" fill="none" stroke="#1f7a63" stroke-width="1.5" />
<path d="M708,1141.19 L721.6,1154.79 M721.6,1141.19 L708,1154.79" fill="none" stroke="#1f7a63" stroke-width="1.9" />
<rect x="736.1" y="1137.19" width="18.900000000000002" height="18.900000000000002" rx="4" fill="#fff" stroke="#333" stroke-width="1.4" />
<text x="770.3" y="1154.8" font-size="24" fill="#d2602a" font-weight="400" textLength="19.2" lengthAdjust="spacingAndGlyphs" font-family="Liberation Serif">A</text>
<text x="838.3" y="1153.8" font-size="19.5" fill="#2b2b2b" font-weight="700" textLength="153.7" lengthAdjust="spacingAndGlyphs" >Compressor Stage</text>
<path d="M1000.2,1141.69 C1000.2,1137.69 1004.7,1135.69 1010.2,1135.69 C1015.7,1135.69 1019.7,1137.69 1019.7,1141.19 C1019.7,1144.69 1015.7,1146.69 1010.2,1146.69 C1008.7,1146.69 1007.2,1146.49 1005.7,1145.99 L1001.0,1148.69 L1002.7,1144.69 C1001.0,1143.69 1000.2,1142.69 1000.2,1141.69 Z" fill="none" stroke="#1f7a63" stroke-width="1.6" stroke-linejoin="round"/>
<circle cx="1005.9" cy="1141.3" r="1.1" fill="#1f7a63"/>
<circle cx="1010.2" cy="1141.3" r="1.1" fill="#1f7a63"/>
<circle cx="1014.5" cy="1141.3" r="1.1" fill="#1f7a63"/>
<text x="1151.6" y="1153.8" font-size="19.5" fill="#1f7a63" font-weight="400" textLength="167.4" lengthAdjust="spacingAndGlyphs" >Defining your Search</text>
<rect x="1151.6" y="1155.69" width="167.4" height="1.3" rx="0" fill="#1f7a63" />
<rect x="1325.3" y="1138.79" width="1.3" height="19.2" rx="0" fill="#333" />
<text x="1331.8" y="1153.8" font-size="19.5" fill="#1f7a63" font-weight="400" textLength="51.2" lengthAdjust="spacingAndGlyphs" >Area A</text>
<rect x="1331.8" y="1155.69" width="51.2" height="1.3" rx="0" fill="#1f7a63" />
<rect x="1388.8" y="1138.79" width="1.3" height="19.2" rx="0" fill="#333" />
<text x="1396.1" y="1153.8" font-size="19.5" fill="#333" font-weight="400" textLength="146.7" lengthAdjust="spacingAndGlyphs" >Compressor Stage</text>
<text x="1627.6" y="1153.8" font-size="19.5" fill="#333" font-weight="400" textLength="9.0" lengthAdjust="spacingAndGlyphs" >4</text>
<rect x="595" y="1164.32" width="1176" height="35.13" rx="0" fill="#eef6f3" />
<circle cx="642.2" cy="1173.8" r="2.4" fill="#1f7a63"/>
<circle cx="642.2" cy="1181.4" r="2.4" fill="#1f7a63"/>
<circle cx="642.2" cy="1189.0" r="2.4" fill="#1f7a63"/>
<path d="M690.1,1171.32 C683.6,1171.32 678.6,1174.82 676.1,1179.82 L671.6,1180.32 L670.6,1182.82 L675.1,1183.32 L678.1,1186.32 L678.6,1190.82 L681.1,1189.82 L681.6,1185.32 C686.6,1182.82 690.1,1177.82 690.1,1171.32 Z" fill="#1f7a63" />
<circle cx="683.9" cy="1177.52" r="2" fill="#fff"/>
<path d="M674.6,1186.32 L671.6,1190.32 M673.6,1184.32 L671.1,1186.82" fill="none" stroke="#1f7a63" stroke-width="1.5" />
<path d="M708,1176.32 L721.6,1189.9199999999998 M721.6,1176.32 L708,1189.9199999999998" fill="none" stroke="#1f7a63" stroke-width="1.9" />
<rect x="736.1" y="1172.32" width="18.900000000000002" height="18.900000000000002" rx="4" fill="#fff" stroke="#333" stroke-width="1.4" />
<path d="M740.4,1182.12 L744.1,1185.9199999999998 L751.1999999999999,1178.12" fill="none" stroke="#111" stroke-width="2.4" stroke-linecap="round" stroke-linejoin="round"/>
<path d="M770.3,1184.3 L774.0,1172.8 L777.4,1186.1 L781.1,1177.0 L784.5,1189.9 L788.1,1183.4 L789.3,1186.7" fill="none" stroke="#2b9fd9" stroke-width="2.5" stroke-linejoin="round" stroke-linecap="round"/>
<text x="804.0" y="1188.9" font-size="19.5" fill="#444" font-weight="400" textLength="15.6" lengthAdjust="spacingAndGlyphs" >%</text>
<text x="838.3" y="1188.9" font-size="19.5" fill="#2b2b2b" font-weight="700" textLength="153.2" lengthAdjust="spacingAndGlyphs" >Relative Humidity</text>
<path d="M999.7,1176.82 C999.7,1172.82 1004.2,1170.82 1009.7,1170.82 C1015.2,1170.82 1019.2,1172.82 1019.2,1176.32 C1019.2,1179.82 1015.2,1181.82 1009.7,1181.82 C1008.2,1181.82 1006.7,1181.62 1005.2,1181.12 L1000.5,1183.82 L1002.2,1179.82 C1000.5,1178.82 999.7,1177.82 999.7,1176.82 Z" fill="none" stroke="#1f7a63" stroke-width="1.6" stroke-linejoin="round"/>
<circle cx="1005.4" cy="1176.4" r="1.1" fill="#1f7a63"/>
<circle cx="1009.7" cy="1176.4" r="1.1" fill="#1f7a63"/>
<circle cx="1014.0" cy="1176.4" r="1.1" fill="#1f7a63"/>
<text x="1151.6" y="1188.9" font-size="19.5" fill="#1f7a63" font-weight="400" textLength="167.4" lengthAdjust="spacingAndGlyphs" >Defining your Search</text>
<rect x="1151.6" y="1190.82" width="167.4" height="1.3" rx="0" fill="#1f7a63" />
<rect x="1325.3" y="1173.9199999999998" width="1.3" height="19.2" rx="0" fill="#333" />
<text x="1331.8" y="1188.9" font-size="19.5" fill="#1f7a63" font-weight="400" textLength="51.2" lengthAdjust="spacingAndGlyphs" >Area A</text>
<rect x="1331.8" y="1190.82" width="51.2" height="1.3" rx="0" fill="#1f7a63" />
<rect x="1388.8" y="1173.9199999999998" width="1.3" height="19.2" rx="0" fill="#333" />
<text x="1396.1" y="1188.9" font-size="19.5" fill="#333" font-weight="400" textLength="143.4" lengthAdjust="spacingAndGlyphs" >Relative Humidity</text>
<text x="1627.6" y="1188.9" font-size="19.5" fill="#333" font-weight="400" textLength="9.0" lengthAdjust="spacingAndGlyphs" >5</text>
<rect x="595" y="1199.45" width="1176" height="35.13" rx="0" fill="#eef6f3" />
<circle cx="642.2" cy="1209.0" r="2.4" fill="#1f7a63"/>
<circle cx="642.2" cy="1216.5" r="2.4" fill="#1f7a63"/>
<circle cx="642.2" cy="1224.2" r="2.4" fill="#1f7a63"/>
<path d="M690.1,1206.45 C683.6,1206.45 678.6,1209.95 676.1,1214.95 L671.6,1215.45 L670.6,1217.95 L675.1,1218.45 L678.1,1221.45 L678.6,1225.95 L681.1,1224.95 L681.6,1220.45 C686.6,1217.95 690.1,1212.95 690.1,1206.45 Z" fill="#1f7a63" />
<circle cx="683.9" cy="1212.65" r="2" fill="#fff"/>
<path d="M674.6,1221.45 L671.6,1225.45 M673.6,1219.45 L671.1,1221.95" fill="none" stroke="#1f7a63" stroke-width="1.5" />
<path d="M708,1211.45 L721.6,1225.05 M721.6,1211.45 L708,1225.05" fill="none" stroke="#1f7a63" stroke-width="1.9" />
<rect x="736.1" y="1207.45" width="18.900000000000002" height="18.900000000000002" rx="4" fill="#fff" stroke="#333" stroke-width="1.4" />
<path d="M740.4,1217.25 L744.1,1221.05 L751.1999999999999,1213.25" fill="none" stroke="#111" stroke-width="2.4" stroke-linecap="round" stroke-linejoin="round"/>
<path d="M770.3,1219.5 L774.0,1207.9 L777.4,1221.2 L781.1,1212.1 L784.5,1225.0 L788.1,1218.5 L789.3,1221.9" fill="none" stroke="#d84b89" stroke-width="2.5" stroke-linejoin="round" stroke-linecap="round"/>
<text x="804.0" y="1224.0" font-size="19.5" fill="#444" font-weight="400" textLength="15.6" lengthAdjust="spacingAndGlyphs" >°F</text>
<text x="838.3" y="1224.0" font-size="19.5" fill="#2b2b2b" font-weight="700" textLength="108.9" lengthAdjust="spacingAndGlyphs" >Temperature</text>
<text x="1151.6" y="1224.0" font-size="19.5" fill="#1f7a63" font-weight="400" textLength="167.4" lengthAdjust="spacingAndGlyphs" >Defining your Search</text>
<rect x="1151.6" y="1225.95" width="167.4" height="1.3" rx="0" fill="#1f7a63" />
<rect x="1325.3" y="1209.05" width="1.3" height="19.2" rx="0" fill="#333" />
<text x="1331.8" y="1224.0" font-size="19.5" fill="#1f7a63" font-weight="400" textLength="51.2" lengthAdjust="spacingAndGlyphs" >Area A</text>
<rect x="1331.8" y="1225.95" width="51.2" height="1.3" rx="0" fill="#1f7a63" />
<rect x="1388.8" y="1209.05" width="1.3" height="19.2" rx="0" fill="#333" />
<text x="1396.1" y="1224.0" font-size="19.5" fill="#333" font-weight="400" textLength="103.6" lengthAdjust="spacingAndGlyphs" >Temperature</text>
<text x="1627.6" y="1224.0" font-size="19.5" fill="#333" font-weight="400" textLength="9.0" lengthAdjust="spacingAndGlyphs" >6</text>
<rect x="595" y="1234.58" width="1176" height="35.13" rx="0" fill="#f9f9f9" />
<circle cx="642.2" cy="1244.1" r="2.4" fill="#1f7a63"/>
<circle cx="642.2" cy="1251.7" r="2.4" fill="#1f7a63"/>
<circle cx="642.2" cy="1259.3" r="2.4" fill="#1f7a63"/>
<path d="M690.1,1241.58 C683.6,1241.58 678.6,1245.08 676.1,1250.08 L671.6,1250.58 L670.6,1253.08 L675.1,1253.58 L678.1,1256.58 L678.6,1261.08 L681.1,1260.08 L681.6,1255.58 C686.6,1253.08 690.1,1248.08 690.1,1241.58 Z" fill="#1f7a63" />
<circle cx="683.9" cy="1247.78" r="2" fill="#fff"/>
<path d="M674.6,1256.58 L671.6,1260.58 M673.6,1254.58 L671.1,1257.08" fill="none" stroke="#1f7a63" stroke-width="1.5" />
<path d="M708,1246.58 L721.6,1260.1799999999998 M721.6,1246.58 L708,1260.1799999999998" fill="none" stroke="#1f7a63" stroke-width="1.9" />
<rect x="736.1" y="1242.58" width="18.900000000000002" height="18.900000000000002" rx="4" fill="#fff" stroke="#333" stroke-width="1.4" />
<path d="M770.3,1254.6 L774.0,1243.1 L777.4,1256.3 L781.1,1247.2 L784.5,1260.2 L788.1,1253.6 L789.3,1257.0" fill="none" stroke="#4a5fb0" stroke-width="2.5" stroke-linejoin="round" stroke-linecap="round"/>
<text x="804.0" y="1259.2" font-size="19.5" fill="#444" font-weight="400" textLength="15.6" lengthAdjust="spacingAndGlyphs" >°F</text>
<text x="838.3" y="1259.2" font-size="19.5" fill="#2b2b2b" font-weight="700" textLength="74.8" lengthAdjust="spacingAndGlyphs" >Wet Bulb</text>
<path d="M921.3000000000001,1247.08 C921.3000000000001,1243.08 925.8000000000001,1241.08 931.3000000000001,1241.08 C936.8000000000001,1241.08 940.8000000000001,1243.08 940.8000000000001,1246.58 C940.8000000000001,1250.08 936.8000000000001,1252.08 931.3000000000001,1252.08 C929.8000000000001,1252.08 928.3000000000001,1251.8799999999999 926.8000000000001,1251.3799999999999 L922.1,1254.08 L923.8000000000001,1250.08 C922.1,1249.08 921.3000000000001,1248.08 921.3000000000001,1247.08 Z" fill="none" stroke="#1f7a63" stroke-width="1.6" stroke-linejoin="round"/>
<circle cx="927.0" cy="1246.7" r="1.1" fill="#1f7a63"/>
<circle cx="931.3" cy="1246.7" r="1.1" fill="#1f7a63"/>
<circle cx="935.6" cy="1246.7" r="1.1" fill="#1f7a63"/>
<text x="1151.6" y="1259.2" font-size="19.5" fill="#1f7a63" font-weight="400" textLength="167.4" lengthAdjust="spacingAndGlyphs" >Defining your Search</text>
<rect x="1151.6" y="1261.08" width="167.4" height="1.3" rx="0" fill="#1f7a63" />
<rect x="1325.3" y="1244.1799999999998" width="1.3" height="19.2" rx="0" fill="#333" />
<text x="1331.8" y="1259.2" font-size="19.5" fill="#1f7a63" font-weight="400" textLength="51.2" lengthAdjust="spacingAndGlyphs" >Area A</text>
<rect x="1331.8" y="1261.08" width="51.2" height="1.3" rx="0" fill="#1f7a63" />
<rect x="1388.8" y="1244.1799999999998" width="1.3" height="19.2" rx="0" fill="#333" />
<text x="1396.1" y="1259.2" font-size="19.5" fill="#333" font-weight="400" textLength="71.5" lengthAdjust="spacingAndGlyphs" >Wet Bulb</text>
<text x="1627.6" y="1259.2" font-size="19.5" fill="#333" font-weight="400" textLength="9.0" lengthAdjust="spacingAndGlyphs" >7</text>
<rect x="1770.3" y="894.5" width="4.6" height="414" rx="0" fill="#e6e7ea" />
<rect x="1775.8" y="894.5" width="624.2" height="51" rx="0" fill="#f1f2f4" />
<rect x="1775.8" y="944.8" width="624.2" height="1.3" rx="0" fill="#e2e3e6" />
<path d="M1784,945 V905.3 Q1784,897.3 1792,897.3 H1930.8 Q1938.8,897.3 1938.8,905.3 V945 Z" fill="#fff" />
<rect x="1784" y="942" width="154.8" height="3" rx="0" fill="#1f7a63" />
<path d="M1805.4,905.6 H1801.9 V927.3 H1805.4 M1811.7,905.6 H1815.5 V927.3 H1811.7" fill="none" stroke="#1f7a63" stroke-width="2.3" />
<path d="M1804.4,913.8 L1806.1,919.8 L1808.4,909.3 L1810.4,923.5 L1812.3,915.5" fill="none" stroke="#1f7a63" stroke-width="1.8" />
<text x="1829.0" y="927.5" font-size="24" fill="#2b2b2b" font-weight="400" textLength="97.5" lengthAdjust="spacingAndGlyphs" >Capsules</text>
<path d="M2378.0,908.5999999999999 H2387.5 V917.8 M2387.0,909.0999999999999 L2379.0,917.0999999999999 M2375.0,920.8 L2367.0,928.5 M2366.3,918.8 V928.5 H2375.7" fill="none" stroke="#1f7a63" stroke-width="2.6" />
<rect x="1789.2" y="952.5" width="95.5" height="26" rx="7" fill="#fff" stroke="#dcdee1" stroke-width="1.2" />
<line x1="1837.5" y1="952.5" x2="1837.5" y2="978.5" stroke="#dcdee1" stroke-width="1.2" />
<circle cx="1812.3" cy="965" r="6.3" fill="none" stroke="#333" stroke-width="1.7"/>
<line x1="1816.8" y1="969.6" x2="1822.5" y2="975" stroke="#333" stroke-width="2" />
<line x1="1809" y1="965" x2="1815.6" y2="965" stroke="#333" stroke-width="1.5" />
<line x1="1812.3" y1="961.7" x2="1812.3" y2="968.3" stroke="#333" stroke-width="1.5" />
<rect x="1854.3" y="959.6" width="14.2" height="13.6" rx="0.8" fill="none" stroke="#333" stroke-width="1.7" />
<line x1="1857.5" y1="966.4" x2="1865" y2="966.4" stroke="#333" stroke-width="1.7" />
<rect x="1783.8" y="995.2" width="19.1" height="19.1" rx="4" fill="#fff" stroke="#333" stroke-width="1.4" />
<text x="1846.9" y="1010.7" font-size="19.5" fill="#1f7a63" font-weight="700" textLength="42.7" lengthAdjust="spacingAndGlyphs" >Start</text>
<path d="M1897.5,1001.5 L1903.2,995.5 L1909,1001.5 Z" fill="none" stroke="#1f7a63" stroke-width="1.6" stroke-linejoin="round"/>
<circle cx="1921.5" cy="994.8" r="2.5" fill="#d3d6da"/>
<circle cx="1921.5" cy="1002.6" r="2.5" fill="#d3d6da"/>
<circle cx="1921.5" cy="1010.4" r="2.5" fill="#d3d6da"/>
<rect x="2125.6" y="994.6" width="10.7" height="16.8" rx="0" fill="#c2c4c8" />
<rect x="2125.6" y="994.6" width="10.7" height="16.8" rx="0" fill="url(#hatch)" opacity="0.35"/>
<rect x="2115.6" y="994.6" width="20.7" height="16.8" rx="1.5" fill="none" stroke="#555" stroke-width="1.05" />
<line x1="2125.6" y1="994.6" x2="2125.6" y2="1011.4" stroke="#555" stroke-width="1.0" />
<line x1="2115.6" y1="1000.4" x2="2125.6" y2="1000.4" stroke="#555" stroke-width="0.9" />
<line x1="2115.6" y1="1006.2" x2="2125.6" y2="1006.2" stroke="#555" stroke-width="0.9" />
<circle cx="2134.2" cy="1009.3" r="4.6" fill="#222" stroke="#fff" stroke-width="0.9"/>
<path d="M2134.2,1006.5 V1012.1 M2131.4,1009.3 H2137" fill="none" stroke="#fff" stroke-width="1.4" />
<line x1="2153.2" y1="989.2" x2="2153.2" y2="1020" stroke="#e0e0e0" stroke-width="1.2" />
<rect x="2188.6" y="994.6" width="10.7" height="16.8" rx="0" fill="#ccd3e0" />
<rect x="2188.6" y="994.6" width="10.7" height="16.8" rx="0" fill="url(#hatch)" opacity="0.35"/>
<rect x="2178.6" y="994.6" width="20.7" height="16.8" rx="1.5" fill="none" stroke="#3b55a3" stroke-width="1.05" />
<line x1="2188.6" y1="994.6" x2="2188.6" y2="1011.4" stroke="#3b55a3" stroke-width="1.0" />
<line x1="2178.6" y1="1000.4" x2="2188.6" y2="1000.4" stroke="#3b55a3" stroke-width="0.9" />
<line x1="2178.6" y1="1006.2" x2="2188.6" y2="1006.2" stroke="#3b55a3" stroke-width="0.9" />
<circle cx="2197.2" cy="1009.3" r="4.6" fill="#3b55a3" stroke="#fff" stroke-width="0.9"/>
<path d="M2197.2,1006.5 V1012.1 M2194.4,1009.3 H2200.0" fill="none" stroke="#fff" stroke-width="1.4" />
<rect x="2232.4" y="994.6" width="10.7" height="16.8" rx="0" fill="#ccd3e0" />
<rect x="2232.4" y="994.6" width="10.7" height="16.8" rx="0" fill="url(#hatch)" opacity="0.35"/>
<rect x="2222.4" y="994.6" width="20.7" height="16.8" rx="1.5" fill="none" stroke="#d2602a" stroke-width="1.05" />
<line x1="2232.4" y1="994.6" x2="2232.4" y2="1011.4" stroke="#d2602a" stroke-width="1.0" />
<line x1="2222.4" y1="1000.4" x2="2232.4" y2="1000.4" stroke="#d2602a" stroke-width="0.9" />
<line x1="2222.4" y1="1006.2" x2="2232.4" y2="1006.2" stroke="#d2602a" stroke-width="0.9" />
<circle cx="2241.0" cy="1009.3" r="4.6" fill="#d2602a" stroke="#fff" stroke-width="0.9"/>
<path d="M2241.0,1006.5 V1012.1 M2238.2000000000003,1009.3 H2243.8" fill="none" stroke="#fff" stroke-width="1.4" />
<rect x="2276.5" y="994.6" width="10.7" height="16.8" rx="0" fill="#ccd3e0" />
<rect x="2276.5" y="994.6" width="10.7" height="16.8" rx="0" fill="url(#hatch)" opacity="0.35"/>
<rect x="2266.5" y="994.6" width="20.7" height="16.8" rx="1.5" fill="none" stroke="#2b9fd9" stroke-width="1.05" />
<line x1="2276.5" y1="994.6" x2="2276.5" y2="1011.4" stroke="#2b9fd9" stroke-width="1.0" />
<line x1="2266.5" y1="1000.4" x2="2276.5" y2="1000.4" stroke="#2b9fd9" stroke-width="0.9" />
<line x1="2266.5" y1="1006.2" x2="2276.5" y2="1006.2" stroke="#2b9fd9" stroke-width="0.9" />
<circle cx="2285.1" cy="1009.3" r="4.6" fill="#2b9fd9" stroke="#fff" stroke-width="0.9"/>
<path d="M2285.1,1006.5 V1012.1 M2282.3,1009.3 H2287.9" fill="none" stroke="#fff" stroke-width="1.4" />
<rect x="2320.4" y="994.6" width="10.7" height="16.8" rx="0" fill="#ccd3e0" />
<rect x="2320.4" y="994.6" width="10.7" height="16.8" rx="0" fill="url(#hatch)" opacity="0.35"/>
<rect x="2310.4" y="994.6" width="20.7" height="16.8" rx="1.5" fill="none" stroke="#d84b89" stroke-width="1.05" />
<line x1="2320.4" y1="994.6" x2="2320.4" y2="1011.4" stroke="#d84b89" stroke-width="1.0" />
<line x1="2310.4" y1="1000.4" x2="2320.4" y2="1000.4" stroke="#d84b89" stroke-width="0.9" />
<line x1="2310.4" y1="1006.2" x2="2320.4" y2="1006.2" stroke="#d84b89" stroke-width="0.9" />
<circle cx="2329.0" cy="1009.3" r="4.6" fill="#d84b89" stroke="#fff" stroke-width="0.9"/>
<path d="M2329.0,1006.5 V1012.1 M2326.2000000000003,1009.3 H2331.8" fill="none" stroke="#fff" stroke-width="1.4" />
<rect x="2364.2" y="994.6" width="10.7" height="16.8" rx="0" fill="#ccd3e0" />
<rect x="2364.2" y="994.6" width="10.7" height="16.8" rx="0" fill="url(#hatch)" opacity="0.35"/>
<rect x="2354.2" y="994.6" width="20.7" height="16.8" rx="1.5" fill="none" stroke="#4d6fb8" stroke-width="1.05" />
<line x1="2364.2" y1="994.6" x2="2364.2" y2="1011.4" stroke="#4d6fb8" stroke-width="1.0" />
<line x1="2354.2" y1="1000.4" x2="2364.2" y2="1000.4" stroke="#4d6fb8" stroke-width="0.9" />
<line x1="2354.2" y1="1006.2" x2="2364.2" y2="1006.2" stroke="#4d6fb8" stroke-width="0.9" />
<circle cx="2372.7999999999997" cy="1009.3" r="4.6" fill="#4d6fb8" stroke="#fff" stroke-width="0.9"/>
<path d="M2372.7999999999997,1006.5 V1012.1 M2370.0,1009.3 H2375.6" fill="none" stroke="#fff" stroke-width="1.4" />
<rect x="2386.8" y="985" width="12" height="268" rx="6" fill="#f1f1f1" />
<rect x="2387.3" y="985.5" width="11" height="75" rx="5.5" fill="#c3c3c3" />
<clipPath id="capclip"><rect x="1775.8" y="1023.9" width="610" height="229.4"/></clipPath>
<g clip-path="url(#capclip)">
<rect x="1775.8" y="1023.9" width="610" height="35.25" rx="0" fill="#f7f7f7" />
<rect x="1783.8" y="1032.4" width="19.1" height="19.1" rx="4" fill="#fff" stroke="#333" stroke-width="1.4" />
<path d="M1824.3,1032.5 H1821.5 V1049.5 H1824.3 M1830.4,1032.5 H1833.3 V1049.5 H1830.4" fill="none" stroke="#9b2c8c" stroke-width="2.0" />
<path d="M1824.2,1038.2 L1825.6,1042.9 L1827.3,1034.7 L1829,1045.7 L1830.4,1039.4" fill="none" stroke="#9b2c8c" stroke-width="1.4" />
<text x="1846.9" y="1047.5" font-size="19.5" fill="#333" font-weight="400" textLength="175.6" lengthAdjust="spacingAndGlyphs" >Jan 22, 2026 12:12 PM</text>
<rect x="1775.8" y="1059.15" width="610" height="35.25" rx="0" fill="#fff" />
<rect x="1783.8" y="1067.65" width="19.1" height="19.1" rx="4" fill="#fff" stroke="#333" stroke-width="1.4" />
<path d="M1824.3,1067.75 H1821.5 V1084.75 H1824.3 M1830.4,1067.75 H1833.3 V1084.75 H1830.4" fill="none" stroke="#9b6340" stroke-width="2.0" />
<path d="M1824.2,1073.45 L1825.6,1078.15 L1827.3,1069.95 L1829,1080.95 L1830.4,1074.65" fill="none" stroke="#9b6340" stroke-width="1.4" />
<text x="1846.9" y="1082.8" font-size="19.5" fill="#333" font-weight="400" textLength="165.9" lengthAdjust="spacingAndGlyphs" >Jan 22, 2026 4:22 PM</text>
<rect x="1775.8" y="1094.4" width="610" height="35.25" rx="0" fill="#f7f7f7" />
<rect x="1783.8" y="1102.9" width="19.1" height="19.1" rx="4" fill="#fff" stroke="#333" stroke-width="1.4" />
<path d="M1824.3,1103.0 H1821.5 V1120.0 H1824.3 M1830.4,1103.0 H1833.3 V1120.0 H1830.4" fill="none" stroke="#9b2c8c" stroke-width="2.0" />
<path d="M1824.2,1108.7 L1825.6,1113.4 L1827.3,1105.2 L1829,1116.2 L1830.4,1109.9" fill="none" stroke="#9b2c8c" stroke-width="1.4" />
<text x="1846.9" y="1118.0" font-size="19.5" fill="#333" font-weight="400" textLength="175.6" lengthAdjust="spacingAndGlyphs" >Jan 23, 2026 12:06 PM</text>
<rect x="1775.8" y="1129.65" width="610" height="35.25" rx="0" fill="#fff" />
<rect x="1783.8" y="1138.15" width="19.1" height="19.1" rx="4" fill="#fff" stroke="#333" stroke-width="1.4" />
<path d="M1824.3,1138.25 H1821.5 V1155.25 H1824.3 M1830.4,1138.25 H1833.3 V1155.25 H1830.4" fill="none" stroke="#9b6340" stroke-width="2.0" />
<path d="M1824.2,1143.95 L1825.6,1148.65 L1827.3,1140.45 L1829,1151.45 L1830.4,1145.15" fill="none" stroke="#9b6340" stroke-width="1.4" />
<text x="1846.9" y="1153.2" font-size="19.5" fill="#333" font-weight="400" textLength="165.9" lengthAdjust="spacingAndGlyphs" >Jan 23, 2026 3:48 PM</text>
<rect x="1775.8" y="1164.9" width="610" height="35.25" rx="0" fill="#f7f7f7" />
<rect x="1783.8" y="1173.4" width="19.1" height="19.1" rx="4" fill="#fff" stroke="#333" stroke-width="1.4" />
<path d="M1824.3,1173.5 H1821.5 V1190.5 H1824.3 M1830.4,1173.5 H1833.3 V1190.5 H1830.4" fill="none" stroke="#9b6340" stroke-width="2.0" />
<path d="M1824.2,1179.2 L1825.6,1183.9 L1827.3,1175.7 L1829,1186.7 L1830.4,1180.4" fill="none" stroke="#9b6340" stroke-width="1.4" />
<text x="1846.9" y="1188.5" font-size="19.5" fill="#333" font-weight="400" textLength="165.9" lengthAdjust="spacingAndGlyphs" >Jan 24, 2026 3:59 PM</text>
<rect x="1775.8" y="1200.15" width="610" height="35.25" rx="0" fill="#fff" />
<rect x="1783.8" y="1208.65" width="19.1" height="19.1" rx="4" fill="#fff" stroke="#333" stroke-width="1.4" />
<path d="M1824.3,1208.75 H1821.5 V1225.75 H1824.3 M1830.4,1208.75 H1833.3 V1225.75 H1830.4" fill="none" stroke="#9b2c8c" stroke-width="2.0" />
<path d="M1824.2,1214.45 L1825.6,1219.15 L1827.3,1210.95 L1829,1221.95 L1830.4,1215.65" fill="none" stroke="#9b2c8c" stroke-width="1.4" />
<text x="1846.9" y="1223.8" font-size="19.5" fill="#333" font-weight="400" textLength="165.9" lengthAdjust="spacingAndGlyphs" >Jan 24, 2026 7:10 PM</text>
<rect x="1775.8" y="1235.4" width="610" height="35.25" rx="0" fill="#f7f7f7" />
<rect x="1783.8" y="1243.9" width="19.1" height="19.1" rx="4" fill="#fff" stroke="#333" stroke-width="1.4" />
<path d="M1824.3,1244.0 H1821.5 V1261.0 H1824.3 M1830.4,1244.0 H1833.3 V1261.0 H1830.4" fill="none" stroke="#9b6340" stroke-width="2.0" />
<path d="M1824.2,1249.7 L1825.6,1254.4 L1827.3,1246.2 L1829,1257.2 L1830.4,1250.9" fill="none" stroke="#9b6340" stroke-width="1.4" />
<text x="1846.9" y="1259.0" font-size="19.5" fill="#333" font-weight="400" textLength="165.9" lengthAdjust="spacingAndGlyphs" >Jan 24, 2026 8:03 PM</text>
</g>
<text x="1783.6" y="1289.5" font-size="19.5" fill="#333" font-weight="400" textLength="43.0" lengthAdjust="spacingAndGlyphs" >Page:</text>
<rect x="1835.5" y="1267" width="73.6" height="31.2" rx="7" fill="#fff" stroke="#2e4a66" stroke-width="1.4" />
<text x="1848.7" y="1289.5" font-size="19.5" fill="#333" font-weight="400" textLength="8.3" lengthAdjust="spacingAndGlyphs" >1</text>
<path d="M1880,1280 L1888.2,1287.4 L1896.4,1280" fill="none" stroke="#888" stroke-width="2.8" />
<rect x="2252.4" y="1257.2" width="140.2" height="52" rx="8" fill="#fff" stroke="#bfcbd6" stroke-width="1.2" />
<rect x="2298.9" y="1257.2" width="47.2" height="52" rx="0" fill="#1b4536" />
<text x="2316.5" y="1289.5" font-size="19.5" fill="#fff" font-weight="400" textLength="11.0" lengthAdjust="spacingAndGlyphs" >1</text>
<path d="M2279.2,1275 L2271.3,1282.5 L2279.2,1290 Z" fill="none" stroke="#8fc0b3" stroke-width="1.8" stroke-linejoin="round"/>
<path d="M2365.8,1275 L2373.7,1282.5 L2365.8,1290 Z" fill="none" stroke="#8fc0b3" stroke-width="1.8" stroke-linejoin="round"/>
</svg>
</body></html>
